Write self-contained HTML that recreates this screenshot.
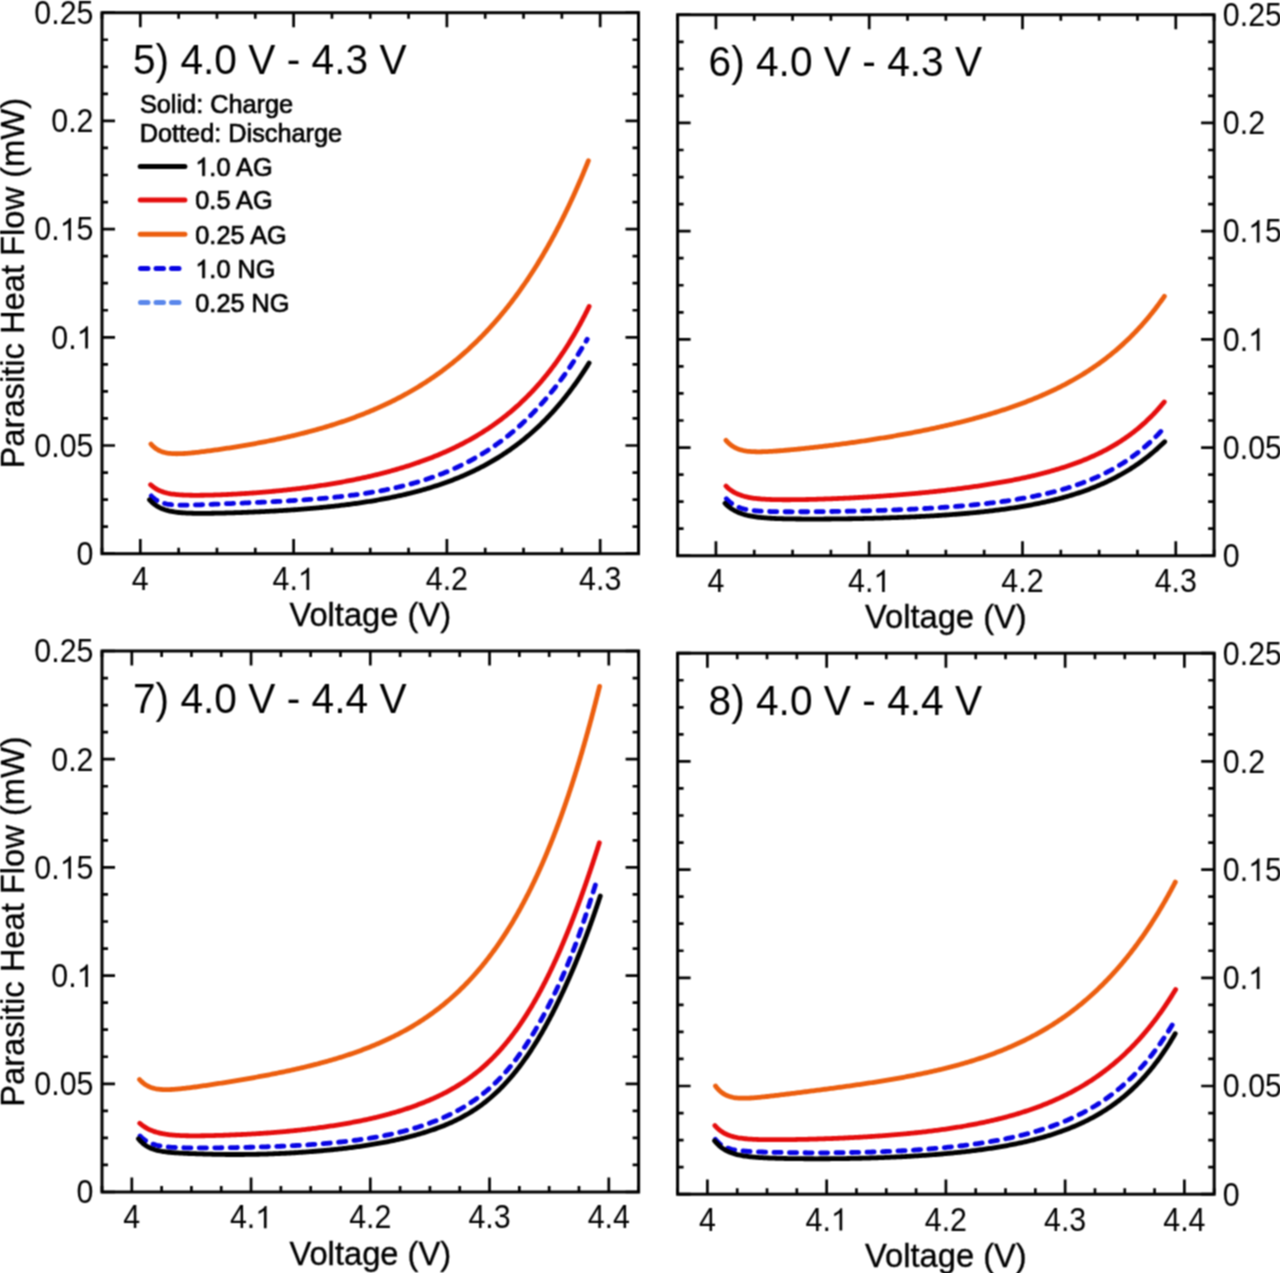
<!DOCTYPE html><html><head><meta charset="utf-8"><style>html,body{margin:0;padding:0;background:#fff;overflow:hidden;}svg{display:block;}text{font-family:"Liberation Sans",sans-serif;fill:#000;}</style></head><body>
<svg width="1280" height="1273" viewBox="0 0 1280 1273">
<defs><filter id="bl" filterUnits="userSpaceOnUse" x="-20" y="-20" width="1320" height="1313" color-interpolation-filters="sRGB"><feConvolveMatrix order="3" kernelMatrix="1 2 1 2 4 2 1 2 1" divisor="16" edgeMode="duplicate" preserveAlpha="true"/></filter></defs><g filter="url(#bl)">
<rect x="-20" y="-20" width="1320" height="1313" fill="#fff"/>
<path d="M150.98 444.09 L151.99 445.2 L153.05 446.25 L154.17 447.25 L155.35 448.18 L156.58 449.03 L157.86 449.81 L159.18 450.5 L160.55 451.12 L161.95 451.66 L163.37 452.12 L164.82 452.51 L166.28 452.83 L167.76 453.1 L169.24 453.31 L170.73 453.47 L172.22 453.58 L173.72 453.67 L175.22 453.71 L176.72 453.73 L178.21 453.72 L179.71 453.69 L181.21 453.64 L182.71 453.57 L184.2 453.48 L185.7 453.39 L187.19 453.28 L188.68 453.15 L190.18 453.02 L191.67 452.89 L193.16 452.74 L194.65 452.59 L196.14 452.43 L197.63 452.26 L199.12 452.09 L200.61 451.92 L202.09 451.74 L203.58 451.55 L205.07 451.37 L206.55 451.18 L208.04 450.98 L209.52 450.79 L211.01 450.59 L212.49 450.39 L213.98 450.18 L215.46 449.98 L216.94 449.77 L218.43 449.55 L219.91 449.34 L221.39 449.12 L222.88 448.9 L224.36 448.68 L225.84 448.46 L227.32 448.23 L228.8 448.01 L230.28 447.78 L231.76 447.54 L233.24 447.31 L234.72 447.07 L236.2 446.83 L237.68 446.59 L239.16 446.35 L240.63 446.1 L242.11 445.86 L243.59 445.61 L245.07 445.35 L246.54 445.1 L248.02 444.84 L249.49 444.58 L250.97 444.32 L252.44 444.06 L253.92 443.79 L255.39 443.52 L256.87 443.25 L258.34 442.97 L259.81 442.7 L261.28 442.42 L262.75 442.14 L264.22 441.85 L265.7 441.56 L267.17 441.27 L268.63 440.98 L270.1 440.69 L271.57 440.39 L273.04 440.09 L274.51 439.78 L275.97 439.48 L277.44 439.17 L278.9 438.85 L280.37 438.54 L281.83 438.22 L283.3 437.9 L284.76 437.57 L286.22 437.24 L287.68 436.91 L289.14 436.58 L290.6 436.24 L292.06 435.9 L293.52 435.56 L294.98 435.21 L296.43 434.86 L297.89 434.5 L299.34 434.15 L300.8 433.79 L302.25 433.42 L303.7 433.05 L305.15 432.68 L306.6 432.31 L308.05 431.93 L309.5 431.54 L310.95 431.16 L312.4 430.77 L313.84 430.37 L315.29 429.98 L316.73 429.58 L318.17 429.17 L319.61 428.76 L321.05 428.35 L322.49 427.93 L323.93 427.51 L325.37 427.08 L326.8 426.65 L328.24 426.22 L329.67 425.78 L331.1 425.34 L332.53 424.89 L333.96 424.44 L335.39 423.99 L336.81 423.53 L338.24 423.06 L339.66 422.59 L341.08 422.12 L342.5 421.64 L343.92 421.16 L345.34 420.68 L346.75 420.18 L348.17 419.69 L349.58 419.19 L350.99 418.68 L352.4 418.17 L353.81 417.66 L355.21 417.14 L356.61 416.61 L358.02 416.08 L359.42 415.55 L360.81 415.01 L362.21 414.46 L363.6 413.91 L364.99 413.36 L366.38 412.8 L367.77 412.23 L369.16 411.66 L370.54 411.09 L371.92 410.51 L373.3 409.92 L374.68 409.33 L376.05 408.73 L377.42 408.13 L378.79 407.52 L380.16 406.91 L381.52 406.29 L382.89 405.67 L384.25 405.04 L385.6 404.4 L386.96 403.76 L388.31 403.12 L389.66 402.47 L391 401.81 L392.35 401.15 L393.69 400.48 L395.03 399.8 L396.36 399.13 L397.7 398.44 L399.02 397.75 L400.35 397.05 L401.67 396.35 L402.99 395.64 L404.31 394.93 L405.63 394.21 L406.94 393.48 L408.24 392.75 L409.55 392.01 L410.85 391.27 L412.15 390.52 L413.44 389.77 L414.73 389.01 L416.02 388.24 L417.3 387.47 L418.59 386.69 L419.86 385.91 L421.14 385.12 L422.41 384.32 L423.67 383.52 L424.93 382.72 L426.19 381.9 L427.45 381.08 L428.7 380.26 L429.95 379.43 L431.19 378.59 L432.43 377.75 L433.66 376.91 L434.9 376.05 L436.12 375.19 L437.35 374.33 L438.57 373.46 L439.78 372.58 L440.99 371.7 L442.2 370.81 L443.4 369.92 L444.6 369.02 L445.8 368.12 L446.99 367.21 L448.17 366.29 L449.36 365.37 L450.53 364.45 L451.71 363.52 L452.88 362.58 L454.04 361.64 L455.2 360.69 L456.36 359.73 L457.51 358.78 L458.65 357.81 L459.8 356.84 L460.93 355.87 L462.07 354.89 L463.2 353.9 L464.32 352.91 L465.44 351.92 L466.56 350.92 L467.67 349.91 L468.77 348.9 L469.88 347.89 L470.97 346.87 L472.06 345.84 L473.15 344.81 L474.24 343.77 L475.31 342.73 L476.39 341.69 L477.46 340.64 L478.52 339.59 L479.58 338.53 L480.64 337.46 L481.69 336.4 L482.74 335.32 L483.78 334.25 L484.81 333.17 L485.85 332.08 L486.87 330.99 L487.9 329.9 L488.92 328.8 L489.93 327.69 L490.94 326.59 L491.94 325.48 L492.94 324.36 L493.94 323.24 L494.93 322.12 L495.92 320.99 L496.9 319.86 L497.88 318.72 L498.85 317.58 L499.82 316.44 L500.78 315.29 L501.74 314.14 L502.69 312.99 L503.64 311.83 L504.59 310.66 L505.53 309.5 L506.47 308.33 L507.4 307.16 L508.33 305.98 L509.25 304.8 L510.17 303.62 L511.08 302.43 L511.99 301.24 L512.9 300.05 L513.8 298.85 L514.7 297.65 L515.59 296.45 L516.48 295.24 L517.37 294.03 L518.25 292.82 L519.12 291.6 L519.99 290.39 L520.86 289.16 L521.72 287.94 L522.58 286.71 L523.44 285.48 L524.29 284.25 L525.14 283.01 L525.98 281.77 L526.82 280.53 L527.65 279.29 L528.48 278.04 L529.31 276.79 L530.13 275.54 L530.95 274.29 L531.77 273.03 L532.58 271.77 L533.38 270.51 L534.19 269.24 L534.99 267.97 L535.78 266.71 L536.57 265.43 L537.36 264.16 L538.15 262.88 L538.93 261.6 L539.7 260.32 L540.48 259.04 L541.25 257.75 L542.01 256.47 L542.77 255.18 L543.53 253.88 L544.29 252.59 L545.04 251.29 L545.79 250 L546.53 248.7 L547.27 247.39 L548.01 246.09 L548.74 244.78 L549.48 243.47 L550.2 242.16 L550.93 240.85 L551.65 239.54 L552.36 238.22 L553.08 236.91 L553.79 235.59 L554.49 234.27 L555.2 232.94 L555.9 231.62 L556.6 230.29 L557.29 228.97 L557.98 227.64 L558.67 226.31 L559.35 224.97 L560.04 223.64 L560.71 222.3 L561.39 220.97 L562.06 219.63 L562.73 218.29 L563.4 216.94 L564.06 215.6 L564.72 214.26 L565.38 212.91 L566.03 211.56 L566.69 210.21 L567.33 208.86 L567.98 207.51 L568.62 206.16 L569.26 204.8 L569.9 203.45 L570.53 202.09 L571.17 200.73 L571.8 199.37 L572.42 198.01 L573.05 196.65 L573.67 195.28 L574.28 193.92 L574.9 192.55 L575.51 191.19 L576.12 189.82 L576.73 188.45 L577.34 187.08 L577.94 185.71 L578.54 184.33 L579.13 182.96 L579.73 181.58 L580.32 180.21 L580.91 178.83 L581.5 177.45 L582.08 176.07 L582.67 174.69 L583.25 173.31 L583.82 171.93 L584.4 170.55 L584.97 169.16 L585.54 167.78 L586.11 166.39 L586.68 165 L587.24 163.61 L587.8 162.22 L588.36 160.83" fill="none" stroke="#EC5E0E" stroke-width="4.8" stroke-linecap="round" stroke-linejoin="round"/>
<path d="M150.65 484.69 L151.75 485.7 L152.91 486.65 L154.11 487.54 L155.35 488.37 L156.63 489.15 L157.95 489.86 L159.3 490.5 L160.67 491.09 L162.07 491.62 L163.49 492.1 L164.92 492.52 L166.37 492.9 L167.83 493.24 L169.29 493.53 L170.77 493.8 L172.25 494.03 L173.73 494.23 L175.21 494.4 L176.7 494.56 L178.19 494.69 L179.68 494.81 L181.18 494.91 L182.67 494.99 L184.16 495.06 L185.66 495.12 L187.15 495.17 L188.65 495.21 L190.14 495.24 L191.64 495.26 L193.14 495.28 L194.63 495.29 L196.13 495.29 L197.62 495.29 L199.12 495.28 L200.62 495.27 L202.11 495.25 L203.61 495.23 L205.1 495.21 L206.6 495.18 L208.1 495.15 L209.59 495.11 L211.09 495.07 L212.58 495.03 L214.08 494.99 L215.57 494.94 L217.07 494.89 L218.56 494.84 L220.06 494.79 L221.55 494.73 L223.05 494.67 L224.54 494.61 L226.04 494.54 L227.53 494.48 L229.03 494.41 L230.52 494.33 L232.02 494.26 L233.51 494.18 L235 494.11 L236.5 494.03 L237.99 493.94 L239.48 493.86 L240.98 493.77 L242.47 493.68 L243.96 493.59 L245.46 493.49 L246.95 493.4 L248.44 493.3 L249.94 493.2 L251.43 493.09 L252.92 492.99 L254.41 492.88 L255.91 492.77 L257.4 492.66 L258.89 492.54 L260.38 492.42 L261.87 492.3 L263.36 492.18 L264.85 492.06 L266.34 491.93 L267.83 491.8 L269.32 491.67 L270.81 491.54 L272.3 491.4 L273.79 491.26 L275.28 491.12 L276.77 490.98 L278.26 490.83 L279.75 490.68 L281.24 490.53 L282.73 490.38 L284.21 490.23 L285.7 490.07 L287.19 489.91 L288.68 489.74 L290.16 489.58 L291.65 489.41 L293.14 489.24 L294.62 489.06 L296.11 488.89 L297.59 488.71 L299.08 488.53 L300.56 488.34 L302.05 488.16 L303.53 487.97 L305.01 487.77 L306.5 487.58 L307.98 487.38 L309.46 487.18 L310.95 486.98 L312.43 486.77 L313.91 486.56 L315.39 486.35 L316.87 486.14 L318.35 485.92 L319.83 485.7 L321.31 485.48 L322.79 485.25 L324.27 485.02 L325.74 484.79 L327.22 484.55 L328.7 484.32 L330.18 484.07 L331.65 483.83 L333.13 483.58 L334.6 483.33 L336.08 483.08 L337.55 482.82 L339.02 482.56 L340.5 482.3 L341.97 482.03 L343.44 481.76 L344.91 481.49 L346.38 481.21 L347.85 480.93 L349.32 480.65 L350.79 480.36 L352.26 480.07 L353.72 479.78 L355.19 479.48 L356.65 479.18 L358.12 478.87 L359.58 478.57 L361.05 478.25 L362.51 477.94 L363.97 477.62 L365.43 477.3 L366.89 476.97 L368.35 476.64 L369.81 476.31 L371.26 475.97 L372.72 475.62 L374.18 475.28 L375.63 474.93 L377.08 474.57 L378.54 474.22 L379.99 473.85 L381.44 473.49 L382.89 473.12 L384.34 472.74 L385.78 472.36 L387.23 471.98 L388.67 471.59 L390.12 471.2 L391.56 470.8 L393 470.4 L394.44 469.99 L395.88 469.58 L397.32 469.17 L398.75 468.75 L400.19 468.32 L401.62 467.89 L403.05 467.46 L404.48 467.02 L405.91 466.58 L407.34 466.13 L408.76 465.68 L410.19 465.22 L411.61 464.75 L413.03 464.28 L414.45 463.81 L415.87 463.33 L417.28 462.85 L418.7 462.36 L420.11 461.86 L421.52 461.36 L422.93 460.85 L424.33 460.34 L425.73 459.82 L427.14 459.3 L428.54 458.77 L429.93 458.24 L431.33 457.7 L432.72 457.15 L434.11 456.6 L435.5 456.04 L436.89 455.48 L438.27 454.91 L439.65 454.33 L441.03 453.75 L442.4 453.16 L443.78 452.56 L445.15 451.96 L446.51 451.36 L447.88 450.74 L449.24 450.12 L450.6 449.5 L451.95 448.86 L453.31 448.23 L454.66 447.58 L456 446.93 L457.34 446.27 L458.68 445.6 L460.02 444.93 L461.35 444.25 L462.68 443.56 L464.01 442.87 L465.33 442.17 L466.65 441.47 L467.97 440.75 L469.28 440.03 L470.58 439.3 L471.89 438.57 L473.19 437.83 L474.48 437.08 L475.77 436.32 L477.06 435.56 L478.34 434.79 L479.62 434.02 L480.9 433.23 L482.17 432.44 L483.43 431.64 L484.69 430.84 L485.95 430.03 L487.2 429.21 L488.45 428.38 L489.69 427.54 L490.93 426.7 L492.16 425.86 L493.39 425 L494.61 424.14 L495.83 423.27 L497.04 422.39 L498.24 421.51 L499.45 420.62 L500.64 419.72 L501.83 418.81 L503.02 417.9 L504.2 416.98 L505.37 416.05 L506.54 415.12 L507.71 414.18 L508.87 413.23 L510.02 412.28 L511.16 411.32 L512.31 410.35 L513.44 409.38 L514.57 408.4 L515.69 407.41 L516.81 406.41 L517.92 405.41 L519.03 404.41 L520.13 403.39 L521.22 402.37 L522.31 401.34 L523.39 400.31 L524.47 399.27 L525.54 398.23 L526.6 397.17 L527.66 396.12 L528.71 395.05 L529.76 393.98 L530.8 392.9 L531.83 391.82 L532.86 390.73 L533.88 389.64 L534.89 388.54 L535.9 387.44 L536.9 386.33 L537.9 385.21 L538.89 384.09 L539.87 382.96 L540.85 381.83 L541.82 380.69 L542.79 379.55 L543.74 378.4 L544.7 377.25 L545.64 376.09 L546.59 374.92 L547.52 373.76 L548.45 372.58 L549.37 371.41 L550.29 370.22 L551.2 369.04 L552.1 367.85 L553 366.65 L553.9 365.45 L554.78 364.25 L555.66 363.04 L556.54 361.82 L557.41 360.61 L558.27 359.38 L559.13 358.16 L559.98 356.93 L560.83 355.7 L561.67 354.46 L562.51 353.22 L563.34 351.97 L564.16 350.72 L564.98 349.47 L565.79 348.22 L566.6 346.96 L567.4 345.69 L568.2 344.43 L568.99 343.16 L569.78 341.89 L570.56 340.61 L571.33 339.33 L572.1 338.05 L572.87 336.76 L573.63 335.47 L574.39 334.18 L575.14 332.89 L575.88 331.59 L576.62 330.29 L577.36 328.99 L578.09 327.68 L578.81 326.37 L579.53 325.06 L580.25 323.75 L580.96 322.43 L581.67 321.11 L582.37 319.79 L583.06 318.47 L583.76 317.14 L584.45 315.82 L585.13 314.48 L585.81 313.15 L586.48 311.82 L587.15 310.48 L587.82 309.14 L588.48 307.8 L589.14 306.45" fill="none" stroke="#E50D0D" stroke-width="4.8" stroke-linecap="round" stroke-linejoin="round"/>
<path d="M151.27 495.9 L152.33 496.96 L153.44 497.96 L154.61 498.89 L155.83 499.76 L157.11 500.54 L158.42 501.25 L159.78 501.88 L161.17 502.44 L162.58 502.92 L164.02 503.34 L165.47 503.7 L166.94 504.01 L168.41 504.26 L169.89 504.47 L171.38 504.65 L172.87 504.79 L174.36 504.9 L175.86 504.99 L177.35 505.05 L178.85 505.1 L180.34 505.13 L181.84 505.15 L183.33 505.15 L184.83 505.15 L186.33 505.14 L187.82 505.12 L189.32 505.09 L190.81 505.06 L192.31 505.02 L193.81 504.98 L195.3 504.93 L196.8 504.88 L198.29 504.83 L199.79 504.78 L201.28 504.73 L202.78 504.67 L204.27 504.62 L205.77 504.56 L207.26 504.5 L208.76 504.44 L210.25 504.38 L211.75 504.32 L213.25 504.26 L214.74 504.2 L216.24 504.14 L217.73 504.08 L219.23 504.02 L220.72 503.96 L222.22 503.9 L223.71 503.84 L225.21 503.77 L226.7 503.71 L228.2 503.65 L229.69 503.59 L231.19 503.53 L232.68 503.47 L234.18 503.4 L235.67 503.34 L237.17 503.28 L238.66 503.22 L240.16 503.15 L241.65 503.09 L243.15 503.03 L244.64 502.96 L246.14 502.9 L247.63 502.83 L249.13 502.77 L250.62 502.7 L252.12 502.64 L253.61 502.57 L255.1 502.51 L256.6 502.44 L258.09 502.37 L259.59 502.3 L261.08 502.23 L262.58 502.16 L264.07 502.09 L265.57 502.02 L267.06 501.95 L268.56 501.88 L270.05 501.81 L271.55 501.73 L273.04 501.66 L274.53 501.58 L276.03 501.51 L277.52 501.43 L279.02 501.35 L280.51 501.27 L282.01 501.19 L283.5 501.11 L284.99 501.02 L286.49 500.94 L287.98 500.85 L289.48 500.76 L290.97 500.67 L292.46 500.58 L293.96 500.49 L295.45 500.4 L296.94 500.3 L298.44 500.21 L299.93 500.11 L301.42 500.01 L302.91 499.91 L304.41 499.81 L305.9 499.7 L307.39 499.59 L308.88 499.48 L310.38 499.37 L311.87 499.26 L313.36 499.14 L314.85 499.03 L316.34 498.91 L317.84 498.79 L319.33 498.66 L320.82 498.54 L322.31 498.41 L323.8 498.28 L325.29 498.14 L326.78 498.01 L328.27 497.87 L329.76 497.73 L331.25 497.58 L332.74 497.43 L334.23 497.28 L335.71 497.13 L337.2 496.97 L338.69 496.82 L340.18 496.65 L341.67 496.49 L343.15 496.32 L344.64 496.15 L346.12 495.97 L347.61 495.8 L349.1 495.61 L350.58 495.43 L352.06 495.24 L353.55 495.05 L355.03 494.85 L356.51 494.65 L358 494.45 L359.48 494.24 L360.96 494.03 L362.44 493.81 L363.92 493.59 L365.4 493.37 L366.88 493.14 L368.36 492.9 L369.83 492.67 L371.31 492.43 L372.79 492.18 L374.26 491.93 L375.74 491.67 L377.21 491.41 L378.68 491.15 L380.15 490.88 L381.63 490.6 L383.09 490.32 L384.56 490.04 L386.03 489.75 L387.5 489.45 L388.96 489.15 L390.43 488.85 L391.89 488.54 L393.36 488.22 L394.82 487.9 L396.28 487.57 L397.74 487.24 L399.19 486.9 L400.65 486.55 L402.1 486.2 L403.56 485.84 L405.01 485.48 L406.46 485.11 L407.91 484.74 L409.35 484.35 L410.8 483.97 L412.24 483.57 L413.68 483.17 L415.12 482.76 L416.56 482.35 L418 481.93 L419.43 481.5 L420.86 481.07 L422.29 480.63 L423.72 480.18 L425.15 479.72 L426.57 479.26 L427.99 478.79 L429.41 478.32 L430.82 477.83 L432.24 477.34 L433.65 476.85 L435.06 476.34 L436.46 475.83 L437.87 475.31 L439.27 474.78 L440.67 474.25 L442.06 473.71 L443.45 473.16 L444.84 472.6 L446.23 472.04 L447.61 471.46 L448.99 470.88 L450.36 470.3 L451.74 469.7 L453.11 469.1 L454.47 468.49 L455.83 467.87 L457.19 467.24 L458.55 466.61 L459.9 465.96 L461.25 465.31 L462.59 464.66 L463.93 463.99 L465.27 463.32 L466.6 462.63 L467.93 461.94 L469.25 461.25 L470.57 460.54 L471.89 459.83 L473.2 459.11 L474.5 458.38 L475.8 457.64 L477.1 456.89 L478.4 456.14 L479.68 455.38 L480.97 454.61 L482.25 453.84 L483.52 453.05 L484.79 452.26 L486.06 451.46 L487.32 450.65 L488.57 449.84 L489.82 449.02 L491.07 448.19 L492.31 447.35 L493.54 446.5 L494.77 445.65 L495.99 444.79 L497.21 443.92 L498.43 443.05 L499.64 442.17 L500.84 441.28 L502.04 440.38 L503.23 439.48 L504.42 438.57 L505.6 437.65 L506.78 436.72 L507.95 435.79 L509.11 434.85 L510.27 433.91 L511.43 432.96 L512.58 432 L513.72 431.03 L514.86 430.06 L515.99 429.08 L517.12 428.1 L518.24 427.11 L519.35 426.11 L520.46 425.11 L521.57 424.1 L522.66 423.08 L523.76 422.06 L524.84 421.03 L525.93 420 L527 418.96 L528.07 417.91 L529.14 416.86 L530.2 415.8 L531.25 414.74 L532.3 413.67 L533.34 412.6 L534.38 411.52 L535.41 410.44 L536.43 409.35 L537.45 408.25 L538.47 407.15 L539.48 406.05 L540.48 404.94 L541.48 403.82 L542.47 402.7 L543.46 401.58 L544.44 400.45 L545.42 399.32 L546.39 398.18 L547.35 397.03 L548.32 395.89 L549.27 394.73 L550.22 393.58 L551.16 392.42 L552.1 391.25 L553.04 390.08 L553.97 388.91 L554.89 387.73 L555.81 386.55 L556.72 385.37 L557.63 384.18 L558.54 382.99 L559.43 381.79 L560.33 380.59 L561.22 379.39 L562.1 378.18 L562.98 376.97 L563.85 375.75 L564.72 374.54 L565.59 373.31 L566.45 372.09 L567.3 370.86 L568.15 369.63 L569 368.39 L569.84 367.16 L570.67 365.92 L571.5 364.67 L572.33 363.43 L573.15 362.18 L573.97 360.92 L574.79 359.67 L575.59 358.41 L576.4 357.15 L577.2 355.88 L578 354.62 L578.79 353.35 L579.57 352.07 L580.36 350.8 L581.14 349.52 L581.91 348.24 L582.68 346.96 L583.45 345.67 L584.21 344.39 L584.97 343.1 L585.72 341.8 L586.47 340.51 L587.22 339.21" fill="none" stroke="#0804E4" stroke-width="4.8" stroke-linecap="round" stroke-linejoin="round" stroke-dasharray="7.2 8.3"/>
<path d="M149.49 499.75 L150.51 500.85 L151.58 501.9 L152.69 502.91 L153.84 503.87 L155.03 504.77 L156.27 505.63 L157.54 506.42 L158.84 507.16 L160.18 507.84 L161.54 508.46 L162.93 509.03 L164.34 509.54 L165.77 510.01 L167.21 510.42 L168.66 510.8 L170.12 511.13 L171.59 511.43 L173.06 511.7 L174.54 511.94 L176.03 512.14 L177.52 512.33 L179.01 512.49 L180.5 512.63 L181.99 512.75 L183.49 512.86 L184.99 512.95 L186.48 513.03 L187.98 513.1 L189.48 513.16 L190.98 513.21 L192.48 513.25 L193.97 513.28 L195.47 513.31 L196.97 513.32 L198.47 513.34 L199.97 513.35 L201.47 513.35 L202.97 513.35 L204.47 513.34 L205.97 513.33 L207.47 513.32 L208.97 513.31 L210.47 513.29 L211.97 513.27 L213.46 513.25 L214.96 513.22 L216.46 513.2 L217.96 513.17 L219.46 513.14 L220.96 513.1 L222.46 513.07 L223.96 513.03 L225.46 513 L226.96 512.96 L228.45 512.92 L229.95 512.87 L231.45 512.83 L232.95 512.79 L234.45 512.74 L235.95 512.69 L237.45 512.64 L238.94 512.59 L240.44 512.54 L241.94 512.49 L243.44 512.43 L244.94 512.38 L246.44 512.32 L247.93 512.26 L249.43 512.2 L250.93 512.14 L252.43 512.08 L253.93 512.02 L255.42 511.95 L256.92 511.88 L258.42 511.82 L259.92 511.75 L261.42 511.68 L262.91 511.61 L264.41 511.53 L265.91 511.46 L267.41 511.38 L268.9 511.3 L270.4 511.22 L271.9 511.14 L273.39 511.06 L274.89 510.98 L276.39 510.89 L277.88 510.8 L279.38 510.72 L280.88 510.63 L282.37 510.53 L283.87 510.44 L285.37 510.35 L286.86 510.25 L288.36 510.15 L289.86 510.05 L291.35 509.95 L292.85 509.84 L294.34 509.74 L295.84 509.63 L297.33 509.52 L298.83 509.41 L300.32 509.3 L301.82 509.18 L303.31 509.07 L304.81 508.95 L306.3 508.83 L307.8 508.7 L309.29 508.58 L310.78 508.45 L312.28 508.32 L313.77 508.19 L315.26 508.06 L316.76 507.92 L318.25 507.78 L319.74 507.64 L321.24 507.5 L322.73 507.35 L324.22 507.21 L325.71 507.06 L327.2 506.9 L328.7 506.75 L330.19 506.59 L331.68 506.43 L333.17 506.27 L334.66 506.1 L336.15 505.94 L337.64 505.77 L339.13 505.59 L340.62 505.42 L342.1 505.24 L343.59 505.06 L345.08 504.87 L346.57 504.69 L348.05 504.5 L349.54 504.3 L351.03 504.11 L352.51 503.91 L354 503.71 L355.48 503.5 L356.97 503.29 L358.45 503.08 L359.94 502.86 L361.42 502.64 L362.9 502.42 L364.39 502.2 L365.87 501.97 L367.35 501.74 L368.83 501.5 L370.31 501.26 L371.79 501.02 L373.27 500.77 L374.75 500.52 L376.22 500.27 L377.7 500.01 L379.18 499.75 L380.65 499.48 L382.13 499.21 L383.6 498.93 L385.07 498.66 L386.55 498.37 L388.02 498.09 L389.49 497.8 L390.96 497.5 L392.43 497.2 L393.9 496.9 L395.36 496.59 L396.83 496.27 L398.3 495.96 L399.76 495.63 L401.22 495.31 L402.68 494.98 L404.15 494.64 L405.61 494.3 L407.06 493.95 L408.52 493.6 L409.98 493.24 L411.43 492.88 L412.89 492.51 L414.34 492.14 L415.79 491.76 L417.24 491.38 L418.69 490.99 L420.13 490.6 L421.58 490.2 L423.02 489.79 L424.46 489.38 L425.9 488.97 L427.34 488.54 L428.78 488.12 L430.22 487.68 L431.65 487.24 L433.08 486.8 L434.51 486.34 L435.94 485.88 L437.36 485.42 L438.79 484.95 L440.21 484.47 L441.63 483.99 L443.04 483.5 L444.46 483 L445.87 482.5 L447.28 481.99 L448.69 481.48 L450.09 480.95 L451.5 480.42 L452.9 479.89 L454.3 479.34 L455.69 478.79 L457.08 478.24 L458.47 477.67 L459.86 477.1 L461.24 476.52 L462.62 475.94 L464 475.35 L465.37 474.75 L466.74 474.14 L468.11 473.53 L469.48 472.91 L470.84 472.28 L472.2 471.64 L473.55 471 L474.9 470.35 L476.25 469.69 L477.59 469.02 L478.93 468.35 L480.27 467.67 L481.6 466.98 L482.93 466.28 L484.25 465.58 L485.57 464.87 L486.89 464.15 L488.2 463.42 L489.5 462.69 L490.81 461.95 L492.11 461.2 L493.4 460.44 L494.69 459.68 L495.97 458.9 L497.25 458.12 L498.53 457.34 L499.8 456.54 L501.07 455.74 L502.33 454.93 L503.59 454.11 L504.84 453.28 L506.08 452.45 L507.32 451.61 L508.56 450.76 L509.79 449.91 L511.02 449.04 L512.24 448.17 L513.45 447.29 L514.66 446.41 L515.87 445.52 L517.07 444.62 L518.26 443.71 L519.45 442.79 L520.63 441.87 L521.81 440.94 L522.98 440.01 L524.15 439.06 L525.31 438.12 L526.46 437.16 L527.61 436.19 L528.75 435.22 L529.89 434.25 L531.02 433.26 L532.15 432.27 L533.27 431.28 L534.38 430.27 L535.49 429.26 L536.59 428.24 L537.69 427.22 L538.78 426.19 L539.86 425.16 L540.94 424.12 L542.01 423.07 L543.08 422.01 L544.14 420.95 L545.19 419.89 L546.24 418.82 L547.28 417.74 L548.32 416.66 L549.35 415.57 L550.38 414.47 L551.39 413.37 L552.41 412.27 L553.41 411.16 L554.42 410.04 L555.41 408.92 L556.4 407.79 L557.38 406.66 L558.36 405.52 L559.33 404.38 L560.3 403.24 L561.26 402.08 L562.21 400.93 L563.16 399.77 L564.11 398.6 L565.04 397.43 L565.98 396.26 L566.9 395.08 L567.82 393.89 L568.74 392.71 L569.65 391.51 L570.55 390.32 L571.45 389.12 L572.34 387.91 L573.23 386.7 L574.11 385.49 L574.99 384.27 L575.86 383.05 L576.72 381.83 L577.58 380.6 L578.44 379.37 L579.29 378.14 L580.13 376.9 L580.97 375.65 L581.81 374.41 L582.64 373.16 L583.46 371.91 L584.28 370.65 L585.09 369.39 L585.9 368.13 L586.71 366.87 L587.51 365.6 L588.3 364.33 L589.09 363.05" fill="none" stroke="#000000" stroke-width="4.8" stroke-linecap="round" stroke-linejoin="round"/>
<path d="M102 553.7V547.7M102 12.7V18.7M140.32 553.7V539.1M140.32 12.7V27.3M178.64 553.7V547.7M178.64 12.7V18.7M216.96 553.7V547.7M216.96 12.7V18.7M255.29 553.7V547.7M255.29 12.7V18.7M293.61 553.7V539.1M293.61 12.7V27.3M331.93 553.7V547.7M331.93 12.7V18.7M370.25 553.7V547.7M370.25 12.7V18.7M408.57 553.7V547.7M408.57 12.7V18.7M446.89 553.7V539.1M446.89 12.7V27.3M485.21 553.7V547.7M485.21 12.7V18.7M523.54 553.7V547.7M523.54 12.7V18.7M561.86 553.7V547.7M561.86 12.7V18.7M600.18 553.7V539.1M600.18 12.7V27.3M638.5 553.7V547.7M638.5 12.7V18.7M102 553.7H115M638.5 553.7H625.5M102 526.65H108M638.5 526.65H632.5M102 499.6H108M638.5 499.6H632.5M102 472.55H108M638.5 472.55H632.5M102 445.5H115M638.5 445.5H625.5M102 418.45H108M638.5 418.45H632.5M102 391.4H108M638.5 391.4H632.5M102 364.35H108M638.5 364.35H632.5M102 337.3H115M638.5 337.3H625.5M102 310.25H108M638.5 310.25H632.5M102 283.2H108M638.5 283.2H632.5M102 256.15H108M638.5 256.15H632.5M102 229.1H115M638.5 229.1H625.5M102 202.05H108M638.5 202.05H632.5M102 175H108M638.5 175H632.5M102 147.95H108M638.5 147.95H632.5M102 120.9H115M638.5 120.9H625.5M102 93.85H108M638.5 93.85H632.5M102 66.8H108M638.5 66.8H632.5M102 39.75H108M638.5 39.75H632.5M102 12.7H115M638.5 12.7H625.5" fill="none" stroke="#000" stroke-width="2.7"/>
<rect x="102" y="12.7" width="536.5" height="541" fill="none" stroke="#000" stroke-width="3.0"/>
<text transform="translate(140.32 590) scale(1 1.07)" font-size="30.4" text-anchor="middle">4</text>
<text transform="translate(293.61 590) scale(1 1.07)" font-size="30.4" text-anchor="middle">4. </text><path transform="translate(297.83 590) scale(0.01484 -0.01588)" d="M583 0L763 0L763 1409L646 1409Q560 1230 223 1075L223 905Q430 985 583 1100Z"/>
<text transform="translate(446.89 590) scale(1 1.07)" font-size="30.4" text-anchor="middle">4.2</text>
<text transform="translate(600.18 590) scale(1 1.07)" font-size="30.4" text-anchor="middle">4.3</text>
<text transform="translate(93.5 565) scale(1 1.07)" font-size="30.4" text-anchor="end">0</text>
<text transform="translate(93.5 456.8) scale(1 1.07)" font-size="30.4" text-anchor="end">0.05</text>
<text transform="translate(93.5 348.6) scale(1 1.07)" font-size="30.4" text-anchor="end">0. </text><path transform="translate(76.59 348.6) scale(0.01484 -0.01588)" d="M583 0L763 0L763 1409L646 1409Q560 1230 223 1075L223 905Q430 985 583 1100Z"/>
<text transform="translate(93.5 240.4) scale(1 1.07)" font-size="30.4" text-anchor="end">0. 5</text><path transform="translate(59.69 240.4) scale(0.01484 -0.01588)" d="M583 0L763 0L763 1409L646 1409Q560 1230 223 1075L223 905Q430 985 583 1100Z"/>
<text transform="translate(93.5 132.2) scale(1 1.07)" font-size="30.4" text-anchor="end">0.2</text>
<text transform="translate(93.5 24) scale(1 1.07)" font-size="30.4" text-anchor="end">0.25</text>
<text transform="translate(370.25 626.4) scale(1 1.02)" font-size="32.7" text-anchor="middle" stroke="#000" stroke-width="0.35">Voltage (V)</text>
<text transform="translate(24.3 283.2) rotate(-90) scale(1 1.02)" font-size="32.7" text-anchor="middle" stroke="#000" stroke-width="0.35">Parasitic Heat Flow (mW)</text>
<text transform="translate(132.9 74.2) scale(1 1.055)" font-size="40.7">5) 4.0 V - 4.3 V</text>
<path d="M725.99 440.33 L726.99 441.46 L728.03 442.53 L729.13 443.56 L730.27 444.52 L731.47 445.43 L732.71 446.27 L733.99 447.04 L735.31 447.74 L736.67 448.38 L738.06 448.94 L739.47 449.44 L740.91 449.88 L742.36 450.26 L743.82 450.58 L745.3 450.86 L746.78 451.09 L748.26 451.28 L749.76 451.43 L751.25 451.55 L752.75 451.65 L754.24 451.71 L755.74 451.76 L757.24 451.78 L758.74 451.79 L760.24 451.78 L761.74 451.75 L763.24 451.72 L764.73 451.67 L766.23 451.61 L767.73 451.54 L769.23 451.47 L770.72 451.38 L772.22 451.29 L773.72 451.2 L775.21 451.09 L776.71 450.99 L778.2 450.88 L779.7 450.76 L781.19 450.64 L782.68 450.52 L784.18 450.39 L785.67 450.26 L787.17 450.13 L788.66 450 L790.15 449.86 L791.64 449.72 L793.14 449.58 L794.63 449.43 L796.12 449.29 L797.61 449.14 L799.1 448.99 L800.59 448.84 L802.09 448.68 L803.58 448.53 L805.07 448.37 L806.56 448.21 L808.05 448.05 L809.54 447.89 L811.03 447.73 L812.52 447.56 L814.01 447.39 L815.5 447.22 L816.99 447.05 L818.48 446.88 L819.97 446.71 L821.45 446.53 L822.94 446.36 L824.43 446.18 L825.92 446 L827.41 445.82 L828.9 445.64 L830.38 445.45 L831.87 445.27 L833.36 445.08 L834.85 444.89 L836.33 444.7 L837.82 444.51 L839.31 444.31 L840.79 444.12 L842.28 443.92 L843.76 443.72 L845.25 443.53 L846.74 443.32 L848.22 443.12 L849.71 442.92 L851.19 442.71 L852.67 442.5 L854.16 442.29 L855.64 442.08 L857.13 441.87 L858.61 441.66 L860.09 441.44 L861.58 441.22 L863.06 441 L864.54 440.78 L866.03 440.56 L867.51 440.34 L868.99 440.11 L870.47 439.88 L871.95 439.65 L873.43 439.42 L874.92 439.19 L876.4 438.95 L877.88 438.72 L879.36 438.48 L880.84 438.24 L882.32 438 L883.79 437.76 L885.27 437.51 L886.75 437.26 L888.23 437.01 L889.71 436.76 L891.19 436.51 L892.66 436.26 L894.14 436 L895.62 435.74 L897.09 435.48 L898.57 435.22 L900.04 434.95 L901.52 434.69 L902.99 434.42 L904.47 434.15 L905.94 433.88 L907.42 433.6 L908.89 433.33 L910.36 433.05 L911.84 432.77 L913.31 432.49 L914.78 432.2 L916.25 431.91 L917.72 431.63 L919.19 431.33 L920.66 431.04 L922.13 430.75 L923.6 430.45 L925.07 430.15 L926.54 429.85 L928.01 429.54 L929.47 429.23 L930.94 428.93 L932.41 428.61 L933.87 428.3 L935.34 427.98 L936.8 427.66 L938.27 427.34 L939.73 427.02 L941.19 426.69 L942.66 426.36 L944.12 426.03 L945.58 425.7 L947.04 425.36 L948.5 425.02 L949.96 424.68 L951.42 424.34 L952.88 423.99 L954.34 423.64 L955.79 423.29 L957.25 422.93 L958.7 422.57 L960.16 422.21 L961.61 421.85 L963.07 421.48 L964.52 421.11 L965.97 420.74 L967.42 420.36 L968.87 419.99 L970.32 419.6 L971.77 419.22 L973.22 418.83 L974.67 418.44 L976.11 418.04 L977.56 417.65 L979 417.24 L980.45 416.84 L981.89 416.43 L983.33 416.02 L984.77 415.61 L986.21 415.19 L987.65 414.76 L989.09 414.34 L990.52 413.91 L991.96 413.48 L993.39 413.04 L994.82 412.6 L996.26 412.16 L997.69 411.71 L999.12 411.26 L1000.54 410.8 L1001.97 410.34 L1003.4 409.88 L1004.82 409.41 L1006.24 408.94 L1007.67 408.46 L1009.09 407.98 L1010.5 407.5 L1011.92 407.01 L1013.34 406.52 L1014.75 406.02 L1016.16 405.52 L1017.57 405.01 L1018.98 404.5 L1020.39 403.99 L1021.8 403.47 L1023.2 402.94 L1024.6 402.41 L1026.01 401.88 L1027.4 401.34 L1028.8 400.79 L1030.2 400.24 L1031.59 399.69 L1032.98 399.13 L1034.37 398.57 L1035.76 398 L1037.14 397.42 L1038.52 396.84 L1039.9 396.26 L1041.28 395.67 L1042.66 395.07 L1044.03 394.47 L1045.4 393.86 L1046.77 393.25 L1048.13 392.63 L1049.5 392.01 L1050.86 391.38 L1052.21 390.74 L1053.57 390.1 L1054.92 389.46 L1056.27 388.8 L1057.62 388.14 L1058.96 387.48 L1060.3 386.81 L1061.64 386.13 L1062.97 385.45 L1064.3 384.76 L1065.63 384.06 L1066.96 383.36 L1068.28 382.65 L1069.6 381.94 L1070.91 381.22 L1072.22 380.49 L1073.53 379.76 L1074.83 379.01 L1076.13 378.27 L1077.43 377.51 L1078.72 376.75 L1080.01 375.99 L1081.29 375.21 L1082.57 374.43 L1083.85 373.65 L1085.12 372.85 L1086.39 372.05 L1087.65 371.25 L1088.91 370.43 L1090.16 369.61 L1091.41 368.78 L1092.66 367.95 L1093.9 367.11 L1095.14 366.26 L1096.37 365.4 L1097.59 364.54 L1098.82 363.67 L1100.03 362.8 L1101.24 361.92 L1102.45 361.03 L1103.65 360.13 L1104.85 359.23 L1106.04 358.32 L1107.23 357.4 L1108.41 356.48 L1109.58 355.55 L1110.75 354.61 L1111.92 353.67 L1113.08 352.72 L1114.23 351.76 L1115.38 350.8 L1116.52 349.83 L1117.66 348.85 L1118.79 347.87 L1119.92 346.88 L1121.04 345.88 L1122.15 344.88 L1123.26 343.87 L1124.36 342.85 L1125.46 341.83 L1126.55 340.8 L1127.63 339.76 L1128.71 338.72 L1129.78 337.68 L1130.85 336.62 L1131.91 335.56 L1132.96 334.5 L1134.01 333.43 L1135.05 332.35 L1136.09 331.26 L1137.12 330.18 L1138.14 329.08 L1139.16 327.98 L1140.17 326.87 L1141.18 325.76 L1142.18 324.64 L1143.17 323.52 L1144.16 322.39 L1145.14 321.26 L1146.11 320.12 L1147.08 318.98 L1148.05 317.83 L1149 316.67 L1149.95 315.51 L1150.9 314.35 L1151.84 313.18 L1152.77 312.01 L1153.69 310.83 L1154.61 309.65 L1155.53 308.46 L1156.44 307.26 L1157.34 306.07 L1158.23 304.87 L1159.12 303.66 L1160.01 302.45 L1160.89 301.23 L1161.76 300.02 L1162.63 298.79 L1163.49 297.57 L1164.34 296.33" fill="none" stroke="#EC5E0E" stroke-width="4.8" stroke-linecap="round" stroke-linejoin="round"/>
<path d="M725.95 486.07 L727.03 487.1 L728.15 488.1 L729.3 489.05 L730.5 489.95 L731.73 490.8 L732.99 491.61 L734.29 492.36 L735.61 493.06 L736.96 493.7 L738.33 494.3 L739.72 494.85 L741.13 495.36 L742.55 495.82 L743.99 496.24 L745.44 496.62 L746.89 496.97 L748.35 497.28 L749.82 497.56 L751.3 497.82 L752.78 498.05 L754.26 498.26 L755.74 498.45 L757.23 498.61 L758.72 498.76 L760.21 498.9 L761.7 499.02 L763.19 499.12 L764.69 499.22 L766.18 499.3 L767.68 499.38 L769.17 499.44 L770.67 499.5 L772.16 499.55 L773.66 499.59 L775.15 499.63 L776.65 499.66 L778.15 499.68 L779.64 499.7 L781.14 499.72 L782.63 499.73 L784.13 499.73 L785.63 499.74 L787.12 499.74 L788.62 499.74 L790.12 499.73 L791.61 499.72 L793.11 499.71 L794.61 499.7 L796.1 499.68 L797.6 499.66 L799.09 499.64 L800.59 499.62 L802.09 499.59 L803.58 499.57 L805.08 499.54 L806.58 499.51 L808.07 499.48 L809.57 499.44 L811.06 499.41 L812.56 499.37 L814.06 499.33 L815.55 499.29 L817.05 499.25 L818.54 499.21 L820.04 499.16 L821.53 499.12 L823.03 499.07 L824.53 499.02 L826.02 498.97 L827.52 498.92 L829.01 498.86 L830.51 498.81 L832 498.75 L833.5 498.7 L834.99 498.64 L836.49 498.58 L837.98 498.52 L839.48 498.45 L840.97 498.39 L842.47 498.32 L843.96 498.26 L845.46 498.19 L846.95 498.12 L848.45 498.05 L849.94 497.98 L851.44 497.9 L852.93 497.83 L854.43 497.75 L855.92 497.68 L857.42 497.6 L858.91 497.52 L860.4 497.43 L861.9 497.35 L863.39 497.27 L864.89 497.18 L866.38 497.09 L867.87 497.01 L869.37 496.92 L870.86 496.82 L872.35 496.73 L873.85 496.64 L875.34 496.54 L876.83 496.45 L878.33 496.35 L879.82 496.25 L881.31 496.15 L882.81 496.04 L884.3 495.94 L885.79 495.83 L887.28 495.73 L888.78 495.62 L890.27 495.51 L891.76 495.4 L893.25 495.28 L894.75 495.17 L896.24 495.05 L897.73 494.94 L899.22 494.82 L900.71 494.7 L902.2 494.58 L903.7 494.45 L905.19 494.33 L906.68 494.2 L908.17 494.07 L909.66 493.95 L911.15 493.81 L912.64 493.68 L914.13 493.55 L915.62 493.41 L917.11 493.27 L918.6 493.13 L920.09 492.99 L921.58 492.85 L923.07 492.71 L924.56 492.56 L926.05 492.41 L927.54 492.27 L929.03 492.11 L930.52 491.96 L932 491.81 L933.49 491.65 L934.98 491.49 L936.47 491.33 L937.96 491.17 L939.44 491.01 L940.93 490.84 L942.42 490.68 L943.9 490.51 L945.39 490.34 L946.88 490.16 L948.36 489.99 L949.85 489.81 L951.34 489.64 L952.82 489.45 L954.31 489.27 L955.79 489.09 L957.28 488.9 L958.76 488.71 L960.24 488.52 L961.73 488.33 L963.21 488.13 L964.7 487.94 L966.18 487.74 L967.66 487.54 L969.14 487.33 L970.63 487.13 L972.11 486.92 L973.59 486.71 L975.07 486.49 L976.55 486.28 L978.03 486.06 L979.51 485.84 L980.99 485.62 L982.47 485.39 L983.95 485.16 L985.43 484.93 L986.91 484.7 L988.38 484.46 L989.86 484.22 L991.34 483.98 L992.81 483.74 L994.29 483.49 L995.77 483.24 L997.24 482.99 L998.71 482.73 L1000.19 482.47 L1001.66 482.21 L1003.13 481.95 L1004.61 481.68 L1006.08 481.41 L1007.55 481.13 L1009.02 480.85 L1010.49 480.57 L1011.96 480.29 L1013.43 480 L1014.89 479.71 L1016.36 479.41 L1017.83 479.11 L1019.29 478.81 L1020.76 478.5 L1022.22 478.19 L1023.68 477.88 L1025.15 477.56 L1026.61 477.24 L1028.07 476.91 L1029.53 476.58 L1030.99 476.24 L1032.44 475.9 L1033.9 475.56 L1035.35 475.21 L1036.81 474.86 L1038.26 474.5 L1039.71 474.14 L1041.16 473.77 L1042.61 473.4 L1044.06 473.02 L1045.51 472.64 L1046.95 472.26 L1048.4 471.86 L1049.84 471.47 L1051.28 471.06 L1052.72 470.65 L1054.16 470.24 L1055.6 469.82 L1057.03 469.39 L1058.46 468.96 L1059.89 468.52 L1061.32 468.08 L1062.75 467.63 L1064.18 467.17 L1065.6 466.71 L1067.02 466.24 L1068.44 465.77 L1069.85 465.28 L1071.27 464.79 L1072.68 464.3 L1074.09 463.79 L1075.5 463.28 L1076.9 462.76 L1078.3 462.24 L1079.7 461.71 L1081.09 461.17 L1082.49 460.62 L1083.88 460.06 L1085.26 459.5 L1086.65 458.92 L1088.02 458.34 L1089.4 457.76 L1090.77 457.16 L1092.14 456.55 L1093.51 455.94 L1094.87 455.32 L1096.22 454.69 L1097.58 454.05 L1098.92 453.4 L1100.27 452.74 L1101.61 452.07 L1102.94 451.4 L1104.27 450.71 L1105.6 450.02 L1106.92 449.31 L1108.23 448.6 L1109.54 447.88 L1110.85 447.14 L1112.15 446.4 L1113.44 445.65 L1114.73 444.89 L1116.01 444.12 L1117.29 443.34 L1118.56 442.54 L1119.82 441.74 L1121.08 440.93 L1122.33 440.11 L1123.58 439.28 L1124.81 438.44 L1126.05 437.59 L1127.27 436.73 L1128.49 435.86 L1129.7 434.98 L1130.9 434.09 L1132.1 433.19 L1133.28 432.28 L1134.47 431.36 L1135.64 430.43 L1136.8 429.49 L1137.96 428.54 L1139.11 427.59 L1140.25 426.62 L1141.39 425.64 L1142.51 424.66 L1143.63 423.66 L1144.74 422.66 L1145.84 421.64 L1146.93 420.62 L1148.02 419.59 L1149.09 418.55 L1150.16 417.5 L1151.22 416.45 L1152.27 415.38 L1153.32 414.31 L1154.35 413.23 L1155.37 412.14 L1156.39 411.04 L1157.4 409.93 L1158.4 408.82 L1159.39 407.7 L1160.37 406.57 L1161.35 405.43 L1162.31 404.29 L1163.27 403.14 L1164.22 401.98" fill="none" stroke="#E50D0D" stroke-width="4.8" stroke-linecap="round" stroke-linejoin="round"/>
<path d="M726.36 498.67 L727.38 499.77 L728.44 500.83 L729.56 501.83 L730.72 502.78 L731.92 503.67 L733.17 504.49 L734.46 505.26 L735.78 505.96 L737.14 506.6 L738.52 507.18 L739.92 507.71 L741.34 508.18 L742.78 508.6 L744.23 508.97 L745.69 509.3 L747.16 509.6 L748.64 509.86 L750.12 510.1 L751.6 510.3 L753.09 510.48 L754.58 510.65 L756.07 510.79 L757.56 510.91 L759.05 511.02 L760.55 511.12 L762.05 511.21 L763.54 511.29 L765.04 511.35 L766.54 511.41 L768.03 511.47 L769.53 511.51 L771.03 511.55 L772.53 511.59 L774.02 511.62 L775.52 511.65 L777.02 511.67 L778.52 511.69 L780.02 511.71 L781.51 511.73 L783.01 511.74 L784.51 511.75 L786.01 511.76 L787.51 511.76 L789 511.77 L790.5 511.77 L792 511.78 L793.5 511.78 L795 511.78 L796.5 511.78 L797.99 511.77 L799.49 511.77 L800.99 511.77 L802.49 511.76 L803.99 511.76 L805.48 511.75 L806.98 511.74 L808.48 511.73 L809.98 511.72 L811.48 511.71 L812.98 511.7 L814.47 511.69 L815.97 511.68 L817.47 511.66 L818.97 511.65 L820.47 511.64 L821.96 511.62 L823.46 511.6 L824.96 511.59 L826.46 511.57 L827.96 511.55 L829.45 511.53 L830.95 511.51 L832.45 511.49 L833.95 511.47 L835.45 511.45 L836.95 511.43 L838.44 511.4 L839.94 511.38 L841.44 511.35 L842.94 511.33 L844.43 511.3 L845.93 511.27 L847.43 511.24 L848.93 511.22 L850.43 511.19 L851.92 511.16 L853.42 511.12 L854.92 511.09 L856.42 511.06 L857.92 511.03 L859.41 510.99 L860.91 510.96 L862.41 510.92 L863.91 510.88 L865.4 510.84 L866.9 510.8 L868.4 510.76 L869.9 510.72 L871.4 510.68 L872.89 510.64 L874.39 510.6 L875.89 510.55 L877.39 510.51 L878.88 510.46 L880.38 510.41 L881.88 510.36 L883.38 510.32 L884.87 510.26 L886.37 510.21 L887.87 510.16 L889.36 510.11 L890.86 510.05 L892.36 510 L893.86 509.94 L895.35 509.88 L896.85 509.82 L898.35 509.76 L899.84 509.7 L901.34 509.64 L902.84 509.58 L904.33 509.51 L905.83 509.45 L907.33 509.38 L908.82 509.31 L910.32 509.24 L911.82 509.17 L913.31 509.1 L914.81 509.03 L916.31 508.95 L917.8 508.88 L919.3 508.8 L920.8 508.72 L922.29 508.64 L923.79 508.56 L925.28 508.48 L926.78 508.39 L928.28 508.31 L929.77 508.22 L931.27 508.13 L932.76 508.04 L934.26 507.95 L935.75 507.85 L937.25 507.76 L938.74 507.66 L940.24 507.56 L941.73 507.46 L943.23 507.36 L944.72 507.25 L946.22 507.15 L947.71 507.04 L949.2 506.93 L950.7 506.82 L952.19 506.71 L953.69 506.59 L955.18 506.48 L956.67 506.36 L958.17 506.24 L959.66 506.11 L961.15 505.99 L962.65 505.86 L964.14 505.73 L965.63 505.6 L967.12 505.46 L968.61 505.33 L970.11 505.19 L971.6 505.05 L973.09 504.9 L974.58 504.76 L976.07 504.61 L977.56 504.46 L979.05 504.3 L980.54 504.15 L982.03 503.99 L983.52 503.83 L985.01 503.66 L986.5 503.5 L987.99 503.33 L989.48 503.15 L990.96 502.98 L992.45 502.8 L993.94 502.61 L995.42 502.43 L996.91 502.24 L998.4 502.05 L999.88 501.85 L1001.37 501.65 L1002.85 501.45 L1004.34 501.25 L1005.82 501.04 L1007.3 500.82 L1008.79 500.61 L1010.27 500.39 L1011.75 500.16 L1013.23 499.94 L1014.71 499.7 L1016.19 499.47 L1017.67 499.23 L1019.15 498.98 L1020.62 498.73 L1022.1 498.48 L1023.58 498.22 L1025.05 497.96 L1026.52 497.69 L1028 497.42 L1029.47 497.15 L1030.94 496.87 L1032.41 496.58 L1033.88 496.29 L1035.35 495.99 L1036.82 495.69 L1038.29 495.39 L1039.75 495.07 L1041.22 494.76 L1042.68 494.44 L1044.14 494.11 L1045.6 493.77 L1047.06 493.43 L1048.52 493.09 L1049.97 492.74 L1051.43 492.38 L1052.88 492.01 L1054.33 491.64 L1055.78 491.27 L1057.23 490.88 L1058.68 490.49 L1060.12 490.1 L1061.57 489.69 L1063.01 489.28 L1064.45 488.86 L1065.88 488.44 L1067.32 488.01 L1068.75 487.57 L1070.18 487.12 L1071.61 486.67 L1073.03 486.2 L1074.45 485.73 L1075.87 485.26 L1077.29 484.77 L1078.71 484.28 L1080.12 483.78 L1081.53 483.27 L1082.93 482.75 L1084.34 482.22 L1085.73 481.69 L1087.13 481.14 L1088.52 480.59 L1089.91 480.03 L1091.3 479.46 L1092.68 478.88 L1094.06 478.29 L1095.43 477.69 L1096.8 477.09 L1098.17 476.47 L1099.53 475.85 L1100.89 475.21 L1102.24 474.57 L1103.59 473.91 L1104.93 473.25 L1106.27 472.58 L1107.6 471.9 L1108.93 471.2 L1110.26 470.5 L1111.57 469.79 L1112.89 469.07 L1114.19 468.34 L1115.5 467.6 L1116.79 466.85 L1118.08 466.08 L1119.37 465.31 L1120.65 464.53 L1121.92 463.74 L1123.19 462.94 L1124.45 462.13 L1125.7 461.31 L1126.95 460.48 L1128.19 459.64 L1129.42 458.79 L1130.65 457.93 L1131.87 457.06 L1133.08 456.18 L1134.29 455.29 L1135.49 454.4 L1136.68 453.49 L1137.86 452.57 L1139.04 451.65 L1140.21 450.71 L1141.37 449.77 L1142.53 448.81 L1143.68 447.85 L1144.82 446.88 L1145.95 445.9 L1147.07 444.91 L1148.19 443.91 L1149.3 442.9 L1150.4 441.89 L1151.5 440.86 L1152.58 439.83 L1153.66 438.79 L1154.73 437.74 L1155.79 436.68 L1156.85 435.62 L1157.89 434.55 L1158.93 433.47 L1159.96 432.38 L1160.99 431.29 L1162 430.19 L1163.01 429.08 L1164.01 427.96" fill="none" stroke="#0804E4" stroke-width="4.8" stroke-linecap="round" stroke-linejoin="round" stroke-dasharray="7.2 8.3"/>
<path d="M724.97 503.31 L726.04 504.36 L727.14 505.37 L728.28 506.34 L729.45 507.27 L730.66 508.15 L731.9 508.98 L733.17 509.77 L734.47 510.51 L735.79 511.21 L737.14 511.86 L738.51 512.46 L739.89 513.02 L741.3 513.54 L742.71 514.02 L744.14 514.46 L745.58 514.86 L747.03 515.24 L748.49 515.58 L749.95 515.89 L751.42 516.17 L752.89 516.43 L754.37 516.67 L755.85 516.89 L757.33 517.09 L758.81 517.27 L760.3 517.44 L761.79 517.59 L763.27 517.73 L764.76 517.86 L766.26 517.97 L767.75 518.08 L769.24 518.17 L770.73 518.26 L772.23 518.34 L773.72 518.42 L775.21 518.48 L776.71 518.54 L778.2 518.6 L779.7 518.65 L781.19 518.7 L782.69 518.74 L784.18 518.78 L785.68 518.81 L787.17 518.85 L788.67 518.88 L790.16 518.9 L791.66 518.93 L793.15 518.95 L794.65 518.97 L796.14 518.98 L797.64 519 L799.13 519.01 L800.63 519.02 L802.12 519.03 L803.62 519.04 L805.11 519.05 L806.61 519.05 L808.1 519.05 L809.6 519.06 L811.1 519.06 L812.59 519.06 L814.09 519.06 L815.58 519.06 L817.08 519.05 L818.57 519.05 L820.07 519.04 L821.56 519.04 L823.06 519.03 L824.55 519.02 L826.05 519.01 L827.54 519 L829.04 518.99 L830.54 518.98 L832.03 518.97 L833.53 518.96 L835.02 518.94 L836.52 518.93 L838.01 518.91 L839.51 518.89 L841 518.87 L842.5 518.86 L843.99 518.84 L845.49 518.82 L846.98 518.79 L848.48 518.77 L849.97 518.75 L851.47 518.73 L852.96 518.7 L854.46 518.67 L855.95 518.65 L857.45 518.62 L858.95 518.59 L860.44 518.56 L861.94 518.53 L863.43 518.5 L864.93 518.47 L866.42 518.44 L867.92 518.4 L869.41 518.37 L870.91 518.33 L872.4 518.29 L873.9 518.26 L875.39 518.22 L876.88 518.18 L878.38 518.14 L879.87 518.09 L881.37 518.05 L882.86 518.01 L884.36 517.96 L885.85 517.91 L887.35 517.87 L888.84 517.82 L890.34 517.77 L891.83 517.72 L893.33 517.67 L894.82 517.61 L896.32 517.56 L897.81 517.5 L899.3 517.45 L900.8 517.39 L902.29 517.33 L903.79 517.27 L905.28 517.21 L906.77 517.15 L908.27 517.08 L909.76 517.02 L911.26 516.95 L912.75 516.88 L914.24 516.81 L915.74 516.74 L917.23 516.67 L918.73 516.6 L920.22 516.52 L921.71 516.45 L923.21 516.37 L924.7 516.29 L926.19 516.21 L927.69 516.13 L929.18 516.04 L930.67 515.96 L932.16 515.87 L933.66 515.78 L935.15 515.69 L936.64 515.6 L938.13 515.51 L939.63 515.41 L941.12 515.32 L942.61 515.22 L944.1 515.12 L945.6 515.01 L947.09 514.91 L948.58 514.8 L950.07 514.7 L951.56 514.59 L953.05 514.48 L954.54 514.36 L956.03 514.25 L957.53 514.13 L959.02 514.01 L960.51 513.89 L962 513.76 L963.49 513.64 L964.98 513.51 L966.47 513.38 L967.96 513.24 L969.45 513.11 L970.93 512.97 L972.42 512.83 L973.91 512.69 L975.4 512.55 L976.89 512.4 L978.38 512.25 L979.86 512.1 L981.35 511.94 L982.84 511.78 L984.32 511.62 L985.81 511.46 L987.3 511.29 L988.78 511.13 L990.27 510.95 L991.75 510.78 L993.24 510.6 L994.72 510.42 L996.21 510.24 L997.69 510.05 L999.17 509.86 L1000.66 509.67 L1002.14 509.47 L1003.62 509.27 L1005.1 509.07 L1006.58 508.86 L1008.06 508.65 L1009.55 508.44 L1011.02 508.22 L1012.5 508 L1013.98 507.78 L1015.46 507.55 L1016.94 507.32 L1018.41 507.08 L1019.89 506.84 L1021.36 506.6 L1022.84 506.35 L1024.31 506.09 L1025.79 505.84 L1027.26 505.58 L1028.73 505.31 L1030.2 505.04 L1031.67 504.77 L1033.14 504.49 L1034.61 504.2 L1036.08 503.91 L1037.54 503.62 L1039.01 503.32 L1040.47 503.02 L1041.94 502.71 L1043.4 502.4 L1044.86 502.08 L1046.32 501.75 L1047.78 501.42 L1049.23 501.09 L1050.69 500.75 L1052.14 500.4 L1053.6 500.05 L1055.05 499.69 L1056.5 499.33 L1057.95 498.96 L1059.4 498.58 L1060.84 498.2 L1062.29 497.81 L1063.73 497.42 L1065.17 497.02 L1066.61 496.61 L1068.05 496.19 L1069.48 495.77 L1070.91 495.35 L1072.34 494.91 L1073.77 494.47 L1075.2 494.02 L1076.62 493.57 L1078.05 493.1 L1079.47 492.63 L1080.88 492.16 L1082.3 491.67 L1083.71 491.18 L1085.12 490.68 L1086.52 490.17 L1087.93 489.65 L1089.33 489.13 L1090.73 488.6 L1092.12 488.06 L1093.51 487.51 L1094.9 486.95 L1096.29 486.39 L1097.67 485.82 L1099.04 485.24 L1100.42 484.65 L1101.79 484.05 L1103.16 483.44 L1104.52 482.83 L1105.88 482.2 L1107.23 481.57 L1108.58 480.93 L1109.93 480.28 L1111.27 479.62 L1112.61 478.95 L1113.94 478.27 L1115.27 477.58 L1116.59 476.89 L1117.91 476.18 L1119.23 475.47 L1120.54 474.75 L1121.84 474.01 L1123.14 473.27 L1124.43 472.52 L1125.72 471.76 L1127 470.99 L1128.28 470.22 L1129.55 469.43 L1130.82 468.63 L1132.08 467.82 L1133.33 467.01 L1134.58 466.18 L1135.82 465.35 L1137.05 464.51 L1138.28 463.66 L1139.51 462.8 L1140.72 461.93 L1141.93 461.05 L1143.14 460.16 L1144.33 459.26 L1145.52 458.36 L1146.71 457.44 L1147.88 456.52 L1149.05 455.59 L1150.21 454.65 L1151.37 453.7 L1152.52 452.74 L1153.66 451.78 L1154.8 450.8 L1155.92 449.82 L1157.05 448.83 L1158.16 447.83 L1159.26 446.83 L1160.36 445.81 L1161.46 444.79 L1162.54 443.76 L1163.62 442.73 L1164.69 441.68" fill="none" stroke="#000000" stroke-width="4.8" stroke-linecap="round" stroke-linejoin="round"/>
<path d="M677.6 555.75V549.75M677.6 14.75V20.75M715.92 555.75V541.15M715.92 14.75V29.35M754.24 555.75V549.75M754.24 14.75V20.75M792.56 555.75V549.75M792.56 14.75V20.75M830.89 555.75V549.75M830.89 14.75V20.75M869.21 555.75V541.15M869.21 14.75V29.35M907.53 555.75V549.75M907.53 14.75V20.75M945.85 555.75V549.75M945.85 14.75V20.75M984.17 555.75V549.75M984.17 14.75V20.75M1022.49 555.75V541.15M1022.49 14.75V29.35M1060.81 555.75V549.75M1060.81 14.75V20.75M1099.14 555.75V549.75M1099.14 14.75V20.75M1137.46 555.75V549.75M1137.46 14.75V20.75M1175.78 555.75V541.15M1175.78 14.75V29.35M1214.1 555.75V549.75M1214.1 14.75V20.75M677.6 555.75H690.6M1214.1 555.75H1201.1M677.6 528.7H683.6M1214.1 528.7H1208.1M677.6 501.65H683.6M1214.1 501.65H1208.1M677.6 474.6H683.6M1214.1 474.6H1208.1M677.6 447.55H690.6M1214.1 447.55H1201.1M677.6 420.5H683.6M1214.1 420.5H1208.1M677.6 393.45H683.6M1214.1 393.45H1208.1M677.6 366.4H683.6M1214.1 366.4H1208.1M677.6 339.35H690.6M1214.1 339.35H1201.1M677.6 312.3H683.6M1214.1 312.3H1208.1M677.6 285.25H683.6M1214.1 285.25H1208.1M677.6 258.2H683.6M1214.1 258.2H1208.1M677.6 231.15H690.6M1214.1 231.15H1201.1M677.6 204.1H683.6M1214.1 204.1H1208.1M677.6 177.05H683.6M1214.1 177.05H1208.1M677.6 150H683.6M1214.1 150H1208.1M677.6 122.95H690.6M1214.1 122.95H1201.1M677.6 95.9H683.6M1214.1 95.9H1208.1M677.6 68.85H683.6M1214.1 68.85H1208.1M677.6 41.8H683.6M1214.1 41.8H1208.1M677.6 14.75H690.6M1214.1 14.75H1201.1" fill="none" stroke="#000" stroke-width="2.7"/>
<rect x="677.6" y="14.75" width="536.5" height="541" fill="none" stroke="#000" stroke-width="3.0"/>
<text transform="translate(715.92 592.05) scale(1 1.07)" font-size="30.4" text-anchor="middle">4</text>
<text transform="translate(869.21 592.05) scale(1 1.07)" font-size="30.4" text-anchor="middle">4. </text><path transform="translate(873.43 592.05) scale(0.01484 -0.01588)" d="M583 0L763 0L763 1409L646 1409Q560 1230 223 1075L223 905Q430 985 583 1100Z"/>
<text transform="translate(1022.49 592.05) scale(1 1.07)" font-size="30.4" text-anchor="middle">4.2</text>
<text transform="translate(1175.78 592.05) scale(1 1.07)" font-size="30.4" text-anchor="middle">4.3</text>
<text transform="translate(1222.8 567.05) scale(1 1.07)" font-size="30.4">0</text>
<text transform="translate(1222.8 458.85) scale(1 1.07)" font-size="30.4">0.05</text>
<text transform="translate(1222.8 350.65) scale(1 1.07)" font-size="30.4">0. </text><path transform="translate(1248.15 350.65) scale(0.01484 -0.01588)" d="M583 0L763 0L763 1409L646 1409Q560 1230 223 1075L223 905Q430 985 583 1100Z"/>
<text transform="translate(1222.8 242.45) scale(1 1.07)" font-size="30.4">0. 5</text><path transform="translate(1248.15 242.45) scale(0.01484 -0.01588)" d="M583 0L763 0L763 1409L646 1409Q560 1230 223 1075L223 905Q430 985 583 1100Z"/>
<text transform="translate(1222.8 134.25) scale(1 1.07)" font-size="30.4">0.2</text>
<text transform="translate(1222.8 26.05) scale(1 1.07)" font-size="30.4">0.25</text>
<text transform="translate(945.85 628.45) scale(1 1.02)" font-size="32.7" text-anchor="middle" stroke="#000" stroke-width="0.35">Voltage (V)</text>
<text transform="translate(708.5 76.25) scale(1 1.055)" font-size="40.7">6) 4.0 V - 4.3 V</text>
<path d="M139.54 1079.52 L140.56 1080.62 L141.63 1081.67 L142.75 1082.66 L143.92 1083.6 L145.15 1084.46 L146.42 1085.26 L147.73 1085.98 L149.09 1086.63 L150.47 1087.2 L151.89 1087.7 L153.32 1088.13 L154.78 1088.49 L156.25 1088.8 L157.72 1089.04 L159.21 1089.24 L160.7 1089.39 L162.2 1089.5 L163.7 1089.57 L165.2 1089.6 L166.7 1089.61 L168.19 1089.6 L169.69 1089.55 L171.19 1089.49 L172.69 1089.41 L174.19 1089.32 L175.68 1089.21 L177.18 1089.09 L178.67 1088.95 L180.16 1088.81 L181.65 1088.66 L183.15 1088.49 L184.64 1088.33 L186.12 1088.15 L187.61 1087.97 L189.1 1087.79 L190.59 1087.6 L192.08 1087.4 L193.56 1087.21 L195.05 1087 L196.53 1086.8 L198.02 1086.59 L199.5 1086.38 L200.99 1086.17 L202.47 1085.96 L203.96 1085.74 L205.44 1085.52 L206.92 1085.3 L208.41 1085.08 L209.89 1084.86 L211.37 1084.63 L212.86 1084.41 L214.34 1084.18 L215.82 1083.95 L217.3 1083.72 L218.78 1083.49 L220.26 1083.25 L221.75 1083.02 L223.23 1082.78 L224.71 1082.55 L226.19 1082.31 L227.67 1082.07 L229.15 1081.83 L230.63 1081.59 L232.11 1081.34 L233.59 1081.1 L235.07 1080.85 L236.55 1080.61 L238.02 1080.36 L239.5 1080.11 L240.98 1079.86 L242.46 1079.6 L243.94 1079.35 L245.42 1079.09 L246.89 1078.84 L248.37 1078.58 L249.85 1078.32 L251.32 1078.05 L252.8 1077.79 L254.28 1077.52 L255.75 1077.26 L257.23 1076.99 L258.7 1076.72 L260.18 1076.44 L261.65 1076.17 L263.12 1075.89 L264.6 1075.62 L266.07 1075.34 L267.54 1075.05 L269.02 1074.77 L270.49 1074.48 L271.96 1074.19 L273.43 1073.9 L274.9 1073.61 L276.37 1073.31 L277.84 1073.02 L279.31 1072.72 L280.78 1072.41 L282.25 1072.11 L283.72 1071.8 L285.18 1071.49 L286.65 1071.18 L288.12 1070.87 L289.58 1070.55 L291.05 1070.23 L292.51 1069.91 L293.97 1069.58 L295.44 1069.25 L296.9 1068.92 L298.36 1068.59 L299.82 1068.25 L301.28 1067.91 L302.74 1067.56 L304.2 1067.22 L305.66 1066.87 L307.12 1066.52 L308.57 1066.16 L310.03 1065.8 L311.49 1065.44 L312.94 1065.07 L314.39 1064.7 L315.84 1064.33 L317.3 1063.95 L318.75 1063.57 L320.2 1063.18 L321.64 1062.79 L323.09 1062.4 L324.54 1062.01 L325.98 1061.61 L327.43 1061.2 L328.87 1060.79 L330.31 1060.38 L331.75 1059.96 L333.19 1059.54 L334.63 1059.12 L336.07 1058.69 L337.5 1058.25 L338.94 1057.82 L340.37 1057.37 L341.8 1056.92 L343.23 1056.47 L344.66 1056.01 L346.08 1055.55 L347.51 1055.09 L348.93 1054.61 L350.35 1054.14 L351.77 1053.65 L353.19 1053.17 L354.61 1052.68 L356.02 1052.18 L357.44 1051.68 L358.85 1051.17 L360.26 1050.65 L361.66 1050.13 L363.07 1049.61 L364.47 1049.08 L365.87 1048.54 L367.27 1048 L368.67 1047.45 L370.06 1046.9 L371.45 1046.34 L372.84 1045.78 L374.23 1045.21 L375.61 1044.63 L376.99 1044.05 L378.37 1043.46 L379.75 1042.86 L381.12 1042.26 L382.49 1041.65 L383.86 1041.04 L385.23 1040.42 L386.59 1039.79 L387.95 1039.16 L389.3 1038.52 L390.66 1037.87 L392.01 1037.21 L393.35 1036.55 L394.69 1035.89 L396.03 1035.21 L397.37 1034.53 L398.7 1033.84 L400.03 1033.15 L401.36 1032.45 L402.68 1031.74 L403.99 1031.02 L405.31 1030.3 L406.62 1029.57 L407.92 1028.83 L409.23 1028.09 L410.52 1027.33 L411.82 1026.57 L413.11 1025.81 L414.39 1025.03 L415.67 1024.25 L416.95 1023.47 L418.22 1022.67 L419.49 1021.87 L420.75 1021.06 L422.01 1020.24 L423.26 1019.42 L424.51 1018.59 L425.75 1017.75 L426.99 1016.9 L428.22 1016.05 L429.45 1015.19 L430.67 1014.32 L431.89 1013.45 L433.1 1012.57 L434.31 1011.68 L435.51 1010.78 L436.71 1009.88 L437.9 1008.97 L439.09 1008.05 L440.27 1007.13 L441.45 1006.2 L442.62 1005.26 L443.78 1004.31 L444.94 1003.36 L446.09 1002.4 L447.24 1001.44 L448.38 1000.47 L449.52 999.49 L450.65 998.5 L451.78 997.51 L452.9 996.51 L454.01 995.51 L455.12 994.5 L456.22 993.48 L457.31 992.46 L458.4 991.43 L459.49 990.39 L460.57 989.35 L461.64 988.3 L462.71 987.25 L463.77 986.19 L464.82 985.12 L465.87 984.05 L466.91 982.97 L467.95 981.89 L468.98 980.8 L470.01 979.71 L471.03 978.61 L472.04 977.5 L473.05 976.39 L474.05 975.27 L475.05 974.15 L476.04 973.03 L477.02 971.9 L478 970.76 L478.97 969.62 L479.94 968.47 L480.9 967.32 L481.86 966.17 L482.81 965.01 L483.75 963.84 L484.69 962.67 L485.62 961.5 L486.55 960.32 L487.47 959.14 L488.39 957.95 L489.3 956.76 L490.2 955.56 L491.1 954.36 L492 953.16 L492.89 951.95 L493.77 950.74 L494.65 949.53 L495.52 948.31 L496.39 947.08 L497.25 945.86 L498.11 944.63 L498.96 943.39 L499.81 942.15 L500.65 940.91 L501.49 939.67 L502.32 938.42 L503.14 937.17 L503.97 935.91 L504.78 934.66 L505.59 933.39 L506.4 932.13 L507.2 930.86 L508 929.59 L508.79 928.32 L509.58 927.04 L510.36 925.77 L511.14 924.48 L511.91 923.2 L512.68 921.91 L513.45 920.62 L514.21 919.33 L514.96 918.03 L515.71 916.73 L516.46 915.43 L517.2 914.13 L517.94 912.83 L518.67 911.52 L519.4 910.21 L520.13 908.89 L520.85 907.58 L521.57 906.26 L522.28 904.94 L522.99 903.62 L523.69 902.3 L524.39 900.97 L525.09 899.64 L525.78 898.31 L526.47 896.98 L527.15 895.65 L527.83 894.31 L528.51 892.97 L529.19 891.63 L529.85 890.29 L530.52 888.95 L531.18 887.6 L531.84 886.26 L532.5 884.91 L533.15 883.56 L533.8 882.2 L534.44 880.85 L535.08 879.49 L535.72 878.14 L536.35 876.78 L536.98 875.42 L537.61 874.05 L538.23 872.69 L538.85 871.32 L539.47 869.96 L540.08 868.59 L540.7 867.22 L541.3 865.85 L541.91 864.48 L542.51 863.1 L543.11 861.73 L543.7 860.35 L544.29 858.97 L544.88 857.59 L545.47 856.21 L546.05 854.83 L546.63 853.45 L547.21 852.07 L547.78 850.68 L548.36 849.29 L548.92 847.91 L549.49 846.52 L550.05 845.13 L550.61 843.74 L551.17 842.34 L551.73 840.95 L552.28 839.56 L552.83 838.16 L553.37 836.77 L553.92 835.37 L554.46 833.97 L555 832.57 L555.53 831.17 L556.07 829.77 L556.6 828.37 L557.13 826.96 L557.66 825.56 L558.18 824.15 L558.7 822.75 L559.22 821.34 L559.74 819.93 L560.25 818.52 L560.76 817.12 L561.27 815.7 L561.78 814.29 L562.28 812.88 L562.79 811.47 L563.29 810.06 L563.79 808.64 L564.28 807.23 L564.78 805.81 L565.27 804.39 L565.76 802.98 L566.25 801.56 L566.73 800.14 L567.21 798.72 L567.7 797.3 L568.17 795.88 L568.65 794.46 L569.13 793.03 L569.6 791.61 L570.07 790.19 L570.54 788.76 L571.01 787.34 L571.47 785.91 L571.93 784.49 L572.4 783.06 L572.85 781.63 L573.31 780.2 L573.77 778.77 L574.22 777.34 L574.67 775.91 L575.12 774.48 L575.57 773.05 L576.02 771.62 L576.46 770.19 L576.9 768.76 L577.35 767.32 L577.78 765.89 L578.22 764.46 L578.66 763.02 L579.09 761.58 L579.52 760.15 L579.96 758.71 L580.38 757.28 L580.81 755.84 L581.24 754.4 L581.66 752.96 L582.08 751.52 L582.5 750.08 L582.92 748.64 L583.34 747.2 L583.76 745.76 L584.17 744.32 L584.58 742.88 L585 741.44 L585.41 740 L585.81 738.55 L586.22 737.11 L586.63 735.67 L587.03 734.22 L587.43 732.78 L587.83 731.33 L588.23 729.89 L588.63 728.44 L589.03 726.99 L589.42 725.55 L589.82 724.1 L590.21 722.65 L590.6 721.21 L590.99 719.76 L591.38 718.31 L591.77 716.86 L592.15 715.41 L592.54 713.96 L592.92 712.51 L593.3 711.06 L593.68 709.61 L594.06 708.16 L594.44 706.71 L594.81 705.26 L595.19 703.81 L595.56 702.35 L595.93 700.9 L596.31 699.45 L596.68 697.99 L597.04 696.54 L597.41 695.09 L597.78 693.63 L598.14 692.18 L598.51 690.72 L598.87 689.27 L599.23 687.81 L599.59 686.36" fill="none" stroke="#EC5E0E" stroke-width="4.8" stroke-linecap="round" stroke-linejoin="round"/>
<path d="M139.74 1123.23 L140.89 1124.2 L142.07 1125.12 L143.28 1126 L144.52 1126.84 L145.79 1127.63 L147.09 1128.37 L148.42 1129.07 L149.77 1129.71 L151.14 1130.32 L152.52 1130.87 L153.93 1131.39 L155.35 1131.86 L156.78 1132.3 L158.23 1132.69 L159.68 1133.05 L161.14 1133.38 L162.61 1133.68 L164.08 1133.94 L165.56 1134.19 L167.04 1134.4 L168.52 1134.6 L170.01 1134.77 L171.5 1134.93 L172.99 1135.07 L174.48 1135.19 L175.97 1135.3 L177.47 1135.39 L178.96 1135.47 L180.46 1135.55 L181.95 1135.61 L183.45 1135.66 L184.95 1135.7 L186.44 1135.74 L187.94 1135.76 L189.44 1135.78 L190.93 1135.8 L192.43 1135.81 L193.93 1135.81 L195.42 1135.81 L196.92 1135.81 L198.42 1135.8 L199.91 1135.79 L201.41 1135.77 L202.91 1135.75 L204.4 1135.73 L205.9 1135.71 L207.4 1135.68 L208.89 1135.65 L210.39 1135.62 L211.89 1135.58 L213.38 1135.55 L214.88 1135.51 L216.38 1135.47 L217.87 1135.42 L219.37 1135.38 L220.86 1135.33 L222.36 1135.29 L223.86 1135.24 L225.35 1135.18 L226.85 1135.13 L228.34 1135.08 L229.84 1135.02 L231.34 1134.96 L232.83 1134.9 L234.33 1134.84 L235.82 1134.77 L237.32 1134.71 L238.81 1134.64 L240.31 1134.57 L241.8 1134.5 L243.3 1134.43 L244.79 1134.36 L246.29 1134.28 L247.78 1134.2 L249.28 1134.12 L250.77 1134.04 L252.27 1133.95 L253.76 1133.87 L255.26 1133.78 L256.75 1133.69 L258.25 1133.59 L259.74 1133.5 L261.23 1133.4 L262.73 1133.3 L264.22 1133.2 L265.71 1133.09 L267.21 1132.99 L268.7 1132.88 L270.19 1132.77 L271.68 1132.65 L273.18 1132.54 L274.67 1132.42 L276.16 1132.3 L277.65 1132.17 L279.14 1132.05 L280.64 1131.92 L282.13 1131.79 L283.62 1131.65 L285.11 1131.52 L286.6 1131.38 L288.09 1131.24 L289.58 1131.1 L291.07 1130.95 L292.56 1130.8 L294.05 1130.65 L295.54 1130.5 L297.03 1130.34 L298.51 1130.18 L300 1130.02 L301.49 1129.86 L302.98 1129.69 L304.47 1129.52 L305.95 1129.35 L307.44 1129.18 L308.93 1129 L310.41 1128.82 L311.9 1128.64 L313.38 1128.45 L314.87 1128.26 L316.35 1128.07 L317.84 1127.88 L319.32 1127.68 L320.8 1127.48 L322.29 1127.27 L323.77 1127.07 L325.25 1126.86 L326.73 1126.64 L328.21 1126.43 L329.7 1126.21 L331.18 1125.99 L332.66 1125.76 L334.13 1125.53 L335.61 1125.3 L337.09 1125.06 L338.57 1124.82 L340.05 1124.58 L341.52 1124.33 L343 1124.08 L344.47 1123.83 L345.95 1123.57 L347.42 1123.31 L348.9 1123.05 L350.37 1122.78 L351.84 1122.5 L353.31 1122.23 L354.78 1121.95 L356.25 1121.66 L357.72 1121.37 L359.19 1121.08 L360.65 1120.78 L362.12 1120.48 L363.59 1120.17 L365.05 1119.86 L366.51 1119.55 L367.98 1119.23 L369.44 1118.9 L370.9 1118.57 L372.36 1118.24 L373.81 1117.9 L375.27 1117.56 L376.73 1117.21 L378.18 1116.85 L379.64 1116.5 L381.09 1116.13 L382.54 1115.76 L383.99 1115.39 L385.43 1115.01 L386.88 1114.62 L388.33 1114.23 L389.77 1113.84 L391.21 1113.43 L392.65 1113.03 L394.09 1112.61 L395.53 1112.19 L396.96 1111.77 L398.4 1111.34 L399.83 1110.9 L401.26 1110.45 L402.69 1110 L404.11 1109.55 L405.53 1109.08 L406.96 1108.62 L408.37 1108.14 L409.79 1107.66 L411.21 1107.17 L412.62 1106.67 L414.03 1106.17 L415.44 1105.66 L416.84 1105.14 L418.24 1104.62 L419.64 1104.09 L421.04 1103.55 L422.43 1103.01 L423.83 1102.45 L425.21 1101.89 L426.6 1101.33 L427.98 1100.75 L429.36 1100.17 L430.74 1099.58 L432.11 1098.98 L433.48 1098.37 L434.84 1097.76 L436.2 1097.14 L437.56 1096.5 L438.91 1095.86 L440.26 1095.21 L441.6 1094.55 L442.94 1093.88 L444.28 1093.21 L445.61 1092.52 L446.93 1091.82 L448.25 1091.12 L449.57 1090.4 L450.88 1089.68 L452.18 1088.94 L453.48 1088.2 L454.77 1087.45 L456.06 1086.68 L457.34 1085.91 L458.62 1085.12 L459.89 1084.33 L461.15 1083.53 L462.41 1082.71 L463.66 1081.89 L464.9 1081.06 L466.14 1080.21 L467.37 1079.36 L468.59 1078.5 L469.81 1077.62 L471.01 1076.74 L472.22 1075.85 L473.41 1074.94 L474.6 1074.03 L475.78 1073.11 L476.95 1072.18 L478.11 1071.24 L479.27 1070.29 L480.42 1069.33 L481.56 1068.36 L482.69 1067.38 L483.81 1066.39 L484.93 1065.39 L486.04 1064.38 L487.14 1063.37 L488.23 1062.34 L489.31 1061.31 L490.39 1060.27 L491.45 1059.22 L492.51 1058.16 L493.56 1057.1 L494.61 1056.02 L495.64 1054.94 L496.67 1053.85 L497.69 1052.76 L498.7 1051.65 L499.7 1050.54 L500.7 1049.43 L501.69 1048.3 L502.67 1047.17 L503.64 1046.03 L504.61 1044.89 L505.57 1043.74 L506.52 1042.59 L507.47 1041.43 L508.4 1040.26 L509.33 1039.09 L510.26 1037.91 L511.17 1036.72 L512.08 1035.53 L512.99 1034.34 L513.88 1033.14 L514.77 1031.94 L515.65 1030.73 L516.53 1029.51 L517.4 1028.3 L518.26 1027.07 L519.12 1025.85 L519.97 1024.61 L520.81 1023.38 L521.65 1022.14 L522.49 1020.89 L523.31 1019.65 L524.13 1018.39 L524.95 1017.14 L525.76 1015.88 L526.56 1014.62 L527.36 1013.35 L528.15 1012.08 L528.94 1010.81 L529.72 1009.53 L530.49 1008.25 L531.27 1006.97 L532.03 1005.68 L532.79 1004.39 L533.55 1003.1 L534.3 1001.8 L535.04 1000.5 L535.78 999.2 L536.52 997.9 L537.25 996.59 L537.98 995.28 L538.7 993.97 L539.41 992.66 L540.13 991.34 L540.83 990.02 L541.54 988.7 L542.24 987.38 L542.93 986.05 L543.62 984.72 L544.31 983.39 L544.99 982.06 L545.67 980.73 L546.34 979.39 L547.01 978.05 L547.68 976.71 L548.34 975.37 L549 974.03 L549.66 972.68 L550.31 971.33 L550.96 969.98 L551.6 968.63 L552.24 967.28 L552.88 965.92 L553.51 964.57 L554.14 963.21 L554.77 961.85 L555.39 960.49 L556.01 959.13 L556.63 957.76 L557.24 956.4 L557.85 955.03 L558.46 953.66 L559.07 952.3 L559.67 950.92 L560.27 949.55 L560.86 948.18 L561.46 946.81 L562.05 945.43 L562.64 944.05 L563.22 942.67 L563.8 941.3 L564.38 939.92 L564.96 938.53 L565.53 937.15 L566.1 935.77 L566.67 934.38 L567.24 933 L567.8 931.61 L568.36 930.22 L568.92 928.83 L569.48 927.44 L570.03 926.05 L570.58 924.66 L571.13 923.27 L571.68 921.88 L572.23 920.48 L572.77 919.09 L573.31 917.69 L573.85 916.3 L574.38 914.9 L574.92 913.5 L575.45 912.1 L575.98 910.7 L576.51 909.3 L577.03 907.9 L577.56 906.49 L578.08 905.09 L578.6 903.69 L579.11 902.28 L579.63 900.88 L580.14 899.47 L580.66 898.07 L581.17 896.66 L581.67 895.25 L582.18 893.84 L582.69 892.43 L583.19 891.02 L583.69 889.61 L584.19 888.2 L584.69 886.79 L585.18 885.38 L585.68 883.96 L586.17 882.55 L586.66 881.14 L587.15 879.72 L587.64 878.31 L588.12 876.89 L588.61 875.47 L589.09 874.06 L589.57 872.64 L590.05 871.22 L590.53 869.8 L591.01 868.38 L591.48 866.96 L591.95 865.54 L592.43 864.12 L592.9 862.7 L593.37 861.28 L593.83 859.86 L594.3 858.44 L594.77 857.01 L595.23 855.59 L595.69 854.17 L596.15 852.74 L596.61 851.32 L597.07 849.89 L597.53 848.47 L597.98 847.04 L598.44 845.62 L598.89 844.19 L599.34 842.76" fill="none" stroke="#E50D0D" stroke-width="4.8" stroke-linecap="round" stroke-linejoin="round"/>
<path d="M140.03 1136.01 L141.1 1137.07 L142.21 1138.07 L143.37 1139.02 L144.57 1139.9 L145.82 1140.73 L147.1 1141.5 L148.42 1142.2 L149.78 1142.84 L151.15 1143.42 L152.56 1143.95 L153.98 1144.42 L155.41 1144.84 L156.86 1145.22 L158.32 1145.55 L159.79 1145.85 L161.26 1146.11 L162.74 1146.35 L164.22 1146.55 L165.71 1146.73 L167.19 1146.89 L168.68 1147.03 L170.18 1147.16 L171.67 1147.27 L173.16 1147.36 L174.66 1147.44 L176.15 1147.52 L177.65 1147.58 L179.14 1147.63 L180.64 1147.68 L182.13 1147.72 L183.63 1147.76 L185.13 1147.79 L186.62 1147.81 L188.12 1147.84 L189.62 1147.85 L191.11 1147.87 L192.61 1147.88 L194.1 1147.89 L195.6 1147.89 L197.1 1147.9 L198.59 1147.9 L200.09 1147.9 L201.59 1147.9 L203.08 1147.9 L204.58 1147.89 L206.08 1147.89 L207.57 1147.88 L209.07 1147.87 L210.57 1147.86 L212.06 1147.85 L213.56 1147.84 L215.06 1147.82 L216.55 1147.81 L218.05 1147.8 L219.55 1147.78 L221.04 1147.76 L222.54 1147.75 L224.04 1147.73 L225.53 1147.71 L227.03 1147.69 L228.53 1147.67 L230.02 1147.64 L231.52 1147.62 L233.01 1147.6 L234.51 1147.57 L236.01 1147.54 L237.5 1147.52 L239 1147.49 L240.5 1147.46 L241.99 1147.43 L243.49 1147.4 L244.99 1147.37 L246.48 1147.33 L247.98 1147.3 L249.47 1147.26 L250.97 1147.23 L252.47 1147.19 L253.96 1147.15 L255.46 1147.11 L256.95 1147.07 L258.45 1147.03 L259.95 1146.98 L261.44 1146.94 L262.94 1146.89 L264.43 1146.85 L265.93 1146.8 L267.43 1146.75 L268.92 1146.69 L270.42 1146.64 L271.91 1146.59 L273.41 1146.53 L274.9 1146.47 L276.4 1146.41 L277.89 1146.35 L279.39 1146.29 L280.89 1146.23 L282.38 1146.16 L283.88 1146.1 L285.37 1146.03 L286.87 1145.96 L288.36 1145.88 L289.86 1145.81 L291.35 1145.74 L292.84 1145.66 L294.34 1145.58 L295.83 1145.5 L297.33 1145.42 L298.82 1145.33 L300.32 1145.24 L301.81 1145.16 L303.3 1145.06 L304.8 1144.97 L306.29 1144.88 L307.78 1144.78 L309.28 1144.68 L310.77 1144.58 L312.26 1144.47 L313.76 1144.37 L315.25 1144.26 L316.74 1144.15 L318.23 1144.04 L319.73 1143.92 L321.22 1143.8 L322.71 1143.68 L324.2 1143.56 L325.69 1143.43 L327.18 1143.3 L328.67 1143.17 L330.17 1143.03 L331.66 1142.9 L333.15 1142.76 L334.64 1142.61 L336.12 1142.47 L337.61 1142.32 L339.1 1142.16 L340.59 1142.01 L342.08 1141.85 L343.57 1141.68 L345.05 1141.52 L346.54 1141.35 L348.03 1141.17 L349.51 1141 L351 1140.82 L352.48 1140.63 L353.97 1140.44 L355.45 1140.25 L356.94 1140.05 L358.42 1139.85 L359.9 1139.65 L361.38 1139.44 L362.87 1139.23 L364.35 1139.01 L365.83 1138.78 L367.31 1138.56 L368.78 1138.33 L370.26 1138.09 L371.74 1137.85 L373.22 1137.6 L374.69 1137.35 L376.17 1137.1 L377.64 1136.83 L379.11 1136.57 L380.58 1136.3 L382.05 1136.02 L383.52 1135.73 L384.99 1135.45 L386.46 1135.15 L387.93 1134.85 L389.39 1134.54 L390.85 1134.23 L392.32 1133.91 L393.78 1133.59 L395.24 1133.26 L396.69 1132.92 L398.15 1132.58 L399.61 1132.22 L401.06 1131.87 L402.51 1131.5 L403.96 1131.13 L405.41 1130.75 L406.85 1130.37 L408.3 1129.97 L409.74 1129.57 L411.18 1129.17 L412.62 1128.75 L414.05 1128.33 L415.49 1127.9 L416.92 1127.46 L418.35 1127.01 L419.77 1126.56 L421.2 1126.09 L422.62 1125.62 L424.03 1125.14 L425.45 1124.66 L426.86 1124.16 L428.27 1123.65 L429.68 1123.14 L431.08 1122.62 L432.48 1122.09 L433.87 1121.55 L435.27 1121 L436.65 1120.44 L438.04 1119.87 L439.42 1119.3 L440.8 1118.71 L442.17 1118.12 L443.54 1117.51 L444.91 1116.9 L446.27 1116.28 L447.62 1115.64 L448.97 1115 L450.32 1114.35 L451.66 1113.68 L453 1113.01 L454.33 1112.32 L455.65 1111.63 L456.97 1110.92 L458.29 1110.21 L459.6 1109.48 L460.9 1108.74 L462.19 1107.99 L463.48 1107.23 L464.77 1106.46 L466.04 1105.68 L467.31 1104.89 L468.58 1104.09 L469.83 1103.28 L471.08 1102.45 L472.33 1101.62 L473.56 1100.77 L474.79 1099.92 L476.01 1099.05 L477.22 1098.17 L478.42 1097.28 L479.62 1096.38 L480.81 1095.47 L481.99 1094.55 L483.16 1093.62 L484.33 1092.68 L485.48 1091.73 L486.63 1090.77 L487.77 1089.8 L488.9 1088.82 L490.02 1087.83 L491.14 1086.83 L492.24 1085.82 L493.34 1084.8 L494.42 1083.77 L495.5 1082.74 L496.57 1081.69 L497.63 1080.63 L498.68 1079.57 L499.73 1078.5 L500.76 1077.42 L501.79 1076.32 L502.8 1075.23 L503.81 1074.12 L504.81 1073 L505.8 1071.88 L506.78 1070.75 L507.75 1069.61 L508.72 1068.47 L509.67 1067.32 L510.62 1066.16 L511.56 1065 L512.5 1063.83 L513.42 1062.65 L514.34 1061.47 L515.25 1060.28 L516.15 1059.08 L517.04 1057.88 L517.93 1056.68 L518.81 1055.47 L519.69 1054.25 L520.55 1053.03 L521.41 1051.81 L522.27 1050.58 L523.11 1049.35 L523.95 1048.11 L524.79 1046.87 L525.62 1045.62 L526.44 1044.37 L527.26 1043.12 L528.07 1041.86 L528.87 1040.6 L529.67 1039.33 L530.46 1038.06 L531.25 1036.79 L532.04 1035.51 L532.81 1034.24 L533.59 1032.95 L534.35 1031.67 L535.12 1030.38 L535.87 1029.09 L536.63 1027.8 L537.37 1026.5 L538.12 1025.2 L538.86 1023.9 L539.59 1022.59 L540.32 1021.29 L541.04 1019.98 L541.77 1018.67 L542.48 1017.35 L543.2 1016.04 L543.9 1014.72 L544.61 1013.4 L545.31 1012.08 L546.01 1010.75 L546.7 1009.43 L547.39 1008.1 L548.08 1006.77 L548.76 1005.44 L549.44 1004.1 L550.11 1002.77 L550.78 1001.43 L551.45 1000.09 L552.12 998.75 L552.78 997.41 L553.43 996.06 L554.09 994.72 L554.74 993.37 L555.38 992.02 L556.03 990.67 L556.67 989.31 L557.3 987.96 L557.94 986.6 L558.56 985.24 L559.19 983.88 L559.81 982.52 L560.43 981.16 L561.04 979.8 L561.65 978.43 L562.26 977.06 L562.87 975.69 L563.47 974.32 L564.06 972.95 L564.66 971.57 L565.25 970.2 L565.83 968.82 L566.42 967.44 L567 966.06 L567.57 964.68 L568.14 963.3 L568.71 961.92 L569.28 960.53 L569.84 959.14 L570.4 957.75 L570.95 956.36 L571.51 954.97 L572.06 953.58 L572.6 952.19 L573.14 950.79 L573.68 949.4 L574.22 948 L574.75 946.6 L575.28 945.2 L575.8 943.8 L576.32 942.4 L576.84 940.99 L577.36 939.59 L577.87 938.18 L578.38 936.77 L578.89 935.37 L579.39 933.96 L579.89 932.55 L580.39 931.13 L580.88 929.72 L581.37 928.31 L581.86 926.89 L582.35 925.48 L582.83 924.06 L583.31 922.64 L583.78 921.22 L584.25 919.8 L584.72 918.38 L585.19 916.96 L585.66 915.54 L586.12 914.11 L586.58 912.69 L587.04 911.27 L587.5 909.84 L587.96 908.42 L588.41 906.99 L588.87 905.57 L589.32 904.14 L589.78 902.71 L590.23 901.29 L590.68 899.86 L591.13 898.43 L591.59 897.01 L592.04 895.58 L592.49 894.15 L592.94 892.73 L593.4 891.3 L593.85 889.87 L594.3 888.45 L594.76 887.02 L595.21 885.6 L595.67 884.17 L596.13 882.75 L596.58 881.32 L597.04 879.9" fill="none" stroke="#0804E4" stroke-width="4.8" stroke-linecap="round" stroke-linejoin="round" stroke-dasharray="7.2 8.3"/>
<path d="M138.42 1138.76 L139.39 1139.91 L140.4 1141.01 L141.46 1142.07 L142.56 1143.08 L143.71 1144.04 L144.91 1144.94 L146.15 1145.77 L147.44 1146.55 L148.75 1147.26 L150.1 1147.92 L151.48 1148.51 L152.88 1149.04 L154.3 1149.52 L155.73 1149.95 L157.18 1150.34 L158.64 1150.68 L160.1 1150.99 L161.58 1151.26 L163.05 1151.51 L164.53 1151.73 L166.02 1151.92 L167.51 1152.1 L169 1152.26 L170.49 1152.41 L171.98 1152.54 L173.47 1152.66 L174.97 1152.77 L176.46 1152.87 L177.96 1152.97 L179.45 1153.06 L180.95 1153.14 L182.44 1153.22 L183.94 1153.29 L185.44 1153.36 L186.93 1153.43 L188.43 1153.49 L189.93 1153.55 L191.42 1153.61 L192.92 1153.67 L194.42 1153.72 L195.91 1153.77 L197.41 1153.83 L198.91 1153.87 L200.41 1153.92 L201.9 1153.97 L203.4 1154.01 L204.9 1154.06 L206.4 1154.1 L207.89 1154.14 L209.39 1154.18 L210.89 1154.21 L212.39 1154.25 L213.88 1154.28 L215.38 1154.31 L216.88 1154.34 L218.38 1154.37 L219.87 1154.4 L221.37 1154.42 L222.87 1154.44 L224.37 1154.46 L225.87 1154.48 L227.36 1154.49 L228.86 1154.5 L230.36 1154.51 L231.86 1154.51 L233.36 1154.52 L234.85 1154.52 L236.35 1154.52 L237.85 1154.52 L239.35 1154.51 L240.85 1154.5 L242.34 1154.49 L243.84 1154.48 L245.34 1154.46 L246.84 1154.45 L248.34 1154.43 L249.83 1154.41 L251.33 1154.38 L252.83 1154.36 L254.33 1154.33 L255.82 1154.3 L257.32 1154.27 L258.82 1154.23 L260.32 1154.19 L261.82 1154.16 L263.31 1154.11 L264.81 1154.07 L266.31 1154.03 L267.8 1153.98 L269.3 1153.93 L270.8 1153.88 L272.3 1153.82 L273.79 1153.76 L275.29 1153.71 L276.79 1153.64 L278.28 1153.58 L279.78 1153.52 L281.28 1153.45 L282.77 1153.38 L284.27 1153.31 L285.77 1153.23 L287.26 1153.15 L288.76 1153.08 L290.25 1153 L291.75 1152.91 L293.24 1152.83 L294.74 1152.74 L296.24 1152.65 L297.73 1152.56 L299.23 1152.46 L300.72 1152.36 L302.21 1152.26 L303.71 1152.16 L305.2 1152.06 L306.7 1151.95 L308.19 1151.84 L309.69 1151.73 L311.18 1151.62 L312.67 1151.5 L314.17 1151.38 L315.66 1151.26 L317.15 1151.14 L318.65 1151.01 L320.14 1150.88 L321.63 1150.75 L323.12 1150.62 L324.61 1150.48 L326.11 1150.34 L327.6 1150.2 L329.09 1150.05 L330.58 1149.91 L332.07 1149.76 L333.56 1149.6 L335.05 1149.45 L336.54 1149.29 L338.03 1149.12 L339.52 1148.96 L341 1148.79 L342.49 1148.62 L343.98 1148.45 L345.47 1148.27 L346.96 1148.09 L348.44 1147.9 L349.93 1147.72 L351.41 1147.53 L352.9 1147.33 L354.38 1147.14 L355.87 1146.93 L357.35 1146.73 L358.84 1146.52 L360.32 1146.31 L361.8 1146.1 L363.28 1145.88 L364.77 1145.66 L366.25 1145.43 L367.73 1145.2 L369.21 1144.96 L370.69 1144.73 L372.16 1144.48 L373.64 1144.24 L375.12 1143.99 L376.59 1143.73 L378.07 1143.47 L379.54 1143.21 L381.02 1142.94 L382.49 1142.67 L383.96 1142.39 L385.43 1142.11 L386.9 1141.82 L388.37 1141.53 L389.84 1141.23 L391.31 1140.93 L392.78 1140.62 L394.24 1140.31 L395.71 1139.99 L397.17 1139.67 L398.63 1139.34 L400.09 1139.01 L401.55 1138.67 L403.01 1138.33 L404.46 1137.98 L405.92 1137.62 L407.37 1137.26 L408.82 1136.89 L410.27 1136.51 L411.72 1136.13 L413.17 1135.75 L414.62 1135.35 L416.06 1134.95 L417.5 1134.55 L418.94 1134.13 L420.38 1133.71 L421.82 1133.29 L423.25 1132.85 L424.68 1132.41 L426.11 1131.97 L427.54 1131.51 L428.96 1131.05 L430.39 1130.58 L431.81 1130.1 L433.22 1129.62 L434.64 1129.12 L436.05 1128.62 L437.45 1128.1 L438.86 1127.58 L440.26 1127.05 L441.66 1126.51 L443.05 1125.96 L444.44 1125.4 L445.82 1124.83 L447.2 1124.25 L448.58 1123.66 L449.95 1123.05 L451.32 1122.44 L452.68 1121.82 L454.04 1121.18 L455.39 1120.54 L456.74 1119.88 L458.08 1119.22 L459.41 1118.54 L460.74 1117.85 L462.07 1117.14 L463.38 1116.43 L464.69 1115.7 L466 1114.97 L467.3 1114.22 L468.59 1113.46 L469.87 1112.69 L471.15 1111.9 L472.42 1111.11 L473.68 1110.3 L474.93 1109.48 L476.18 1108.65 L477.42 1107.8 L478.65 1106.95 L479.87 1106.08 L481.08 1105.2 L482.29 1104.32 L483.48 1103.41 L484.67 1102.5 L485.85 1101.58 L487.02 1100.64 L488.18 1099.7 L489.34 1098.74 L490.48 1097.77 L491.61 1096.79 L492.74 1095.8 L493.85 1094.81 L494.96 1093.8 L496.06 1092.78 L497.15 1091.75 L498.23 1090.71 L499.31 1089.67 L500.37 1088.62 L501.43 1087.55 L502.47 1086.48 L503.51 1085.4 L504.54 1084.31 L505.56 1083.22 L506.58 1082.12 L507.58 1081.01 L508.58 1079.89 L509.57 1078.77 L510.56 1077.63 L511.53 1076.5 L512.5 1075.35 L513.46 1074.2 L514.41 1073.04 L515.35 1071.88 L516.29 1070.71 L517.22 1069.54 L518.14 1068.36 L519.05 1067.17 L519.96 1065.98 L520.86 1064.78 L521.76 1063.58 L522.65 1062.37 L523.53 1061.16 L524.4 1059.95 L525.27 1058.73 L526.13 1057.5 L526.98 1056.27 L527.83 1055.03 L528.68 1053.8 L529.51 1052.55 L530.34 1051.31 L531.17 1050.06 L531.99 1048.8 L532.8 1047.54 L533.61 1046.28 L534.41 1045.02 L535.2 1043.75 L535.99 1042.47 L536.78 1041.2 L537.56 1039.92 L538.33 1038.64 L539.1 1037.35 L539.87 1036.06 L540.63 1034.77 L541.38 1033.48 L542.13 1032.18 L542.88 1030.88 L543.62 1029.58 L544.35 1028.28 L545.09 1026.97 L545.81 1025.66 L546.53 1024.35 L547.25 1023.03 L547.97 1021.71 L548.68 1020.4 L549.38 1019.07 L550.08 1017.75 L550.78 1016.42 L551.47 1015.1 L552.16 1013.77 L552.85 1012.43 L553.53 1011.1 L554.21 1009.76 L554.88 1008.43 L555.55 1007.09 L556.22 1005.75 L556.88 1004.4 L557.54 1003.06 L558.2 1001.71 L558.85 1000.36 L559.5 999.01 L560.15 997.66 L560.79 996.31 L561.44 994.96 L562.07 993.6 L562.71 992.24 L563.34 990.89 L563.97 989.53 L564.59 988.16 L565.22 986.8 L565.84 985.44 L566.45 984.07 L567.07 982.71 L567.68 981.34 L568.29 979.97 L568.89 978.6 L569.5 977.23 L570.1 975.86 L570.7 974.48 L571.29 973.11 L571.89 971.73 L572.48 970.36 L573.07 968.98 L573.65 967.6 L574.23 966.22 L574.81 964.84 L575.39 963.46 L575.97 962.07 L576.54 960.69 L577.11 959.3 L577.67 957.92 L578.24 956.53 L578.8 955.14 L579.36 953.75 L579.92 952.36 L580.47 950.97 L581.02 949.58 L581.57 948.18 L582.12 946.79 L582.67 945.39 L583.21 944 L583.75 942.6 L584.29 941.2 L584.82 939.8 L585.35 938.4 L585.88 937 L586.41 935.6 L586.94 934.2 L587.46 932.79 L587.98 931.39 L588.5 929.98 L589.02 928.58 L589.53 927.17 L590.04 925.76 L590.55 924.35 L591.06 922.94 L591.56 921.53 L592.07 920.12 L592.57 918.71 L593.07 917.3 L593.56 915.88 L594.06 914.47 L594.55 913.05 L595.04 911.64 L595.52 910.22 L596.01 908.81 L596.49 907.39 L596.97 905.97 L597.45 904.55 L597.93 903.13 L598.4 901.71 L598.88 900.29 L599.35 898.86 L599.81 897.44 L600.28 896.02" fill="none" stroke="#000000" stroke-width="4.8" stroke-linecap="round" stroke-linejoin="round"/>
<path d="M102 1192V1186M102 651V657M131.81 1192V1177.4M131.81 651V665.6M161.62 1192V1186M161.62 651V657M191.43 1192V1186M191.43 651V657M221.24 1192V1186M221.24 651V657M251.06 1192V1177.4M251.06 651V665.6M280.87 1192V1186M280.87 651V657M310.68 1192V1186M310.68 651V657M340.49 1192V1186M340.49 651V657M370.3 1192V1177.4M370.3 651V665.6M400.11 1192V1186M400.11 651V657M429.92 1192V1186M429.92 651V657M459.73 1192V1186M459.73 651V657M489.54 1192V1177.4M489.54 651V665.6M519.36 1192V1186M519.36 651V657M549.17 1192V1186M549.17 651V657M578.98 1192V1186M578.98 651V657M608.79 1192V1177.4M608.79 651V665.6M638.6 1192V1186M638.6 651V657M102 1192H115M638.6 1192H625.6M102 1164.95H108M638.6 1164.95H632.6M102 1137.9H108M638.6 1137.9H632.6M102 1110.85H108M638.6 1110.85H632.6M102 1083.8H115M638.6 1083.8H625.6M102 1056.75H108M638.6 1056.75H632.6M102 1029.7H108M638.6 1029.7H632.6M102 1002.65H108M638.6 1002.65H632.6M102 975.6H115M638.6 975.6H625.6M102 948.55H108M638.6 948.55H632.6M102 921.5H108M638.6 921.5H632.6M102 894.45H108M638.6 894.45H632.6M102 867.4H115M638.6 867.4H625.6M102 840.35H108M638.6 840.35H632.6M102 813.3H108M638.6 813.3H632.6M102 786.25H108M638.6 786.25H632.6M102 759.2H115M638.6 759.2H625.6M102 732.15H108M638.6 732.15H632.6M102 705.1H108M638.6 705.1H632.6M102 678.05H108M638.6 678.05H632.6M102 651H115M638.6 651H625.6" fill="none" stroke="#000" stroke-width="2.7"/>
<rect x="102" y="651" width="536.6" height="541" fill="none" stroke="#000" stroke-width="3.0"/>
<text transform="translate(131.81 1228.3) scale(1 1.07)" font-size="30.4" text-anchor="middle">4</text>
<text transform="translate(251.06 1228.3) scale(1 1.07)" font-size="30.4" text-anchor="middle">4. </text><path transform="translate(255.28 1228.3) scale(0.01484 -0.01588)" d="M583 0L763 0L763 1409L646 1409Q560 1230 223 1075L223 905Q430 985 583 1100Z"/>
<text transform="translate(370.3 1228.3) scale(1 1.07)" font-size="30.4" text-anchor="middle">4.2</text>
<text transform="translate(489.54 1228.3) scale(1 1.07)" font-size="30.4" text-anchor="middle">4.3</text>
<text transform="translate(608.79 1228.3) scale(1 1.07)" font-size="30.4" text-anchor="middle">4.4</text>
<text transform="translate(93.5 1203.3) scale(1 1.07)" font-size="30.4" text-anchor="end">0</text>
<text transform="translate(93.5 1095.1) scale(1 1.07)" font-size="30.4" text-anchor="end">0.05</text>
<text transform="translate(93.5 986.9) scale(1 1.07)" font-size="30.4" text-anchor="end">0. </text><path transform="translate(76.59 986.9) scale(0.01484 -0.01588)" d="M583 0L763 0L763 1409L646 1409Q560 1230 223 1075L223 905Q430 985 583 1100Z"/>
<text transform="translate(93.5 878.7) scale(1 1.07)" font-size="30.4" text-anchor="end">0. 5</text><path transform="translate(59.69 878.7) scale(0.01484 -0.01588)" d="M583 0L763 0L763 1409L646 1409Q560 1230 223 1075L223 905Q430 985 583 1100Z"/>
<text transform="translate(93.5 770.5) scale(1 1.07)" font-size="30.4" text-anchor="end">0.2</text>
<text transform="translate(93.5 662.3) scale(1 1.07)" font-size="30.4" text-anchor="end">0.25</text>
<text transform="translate(370.3 1264.7) scale(1 1.02)" font-size="32.7" text-anchor="middle" stroke="#000" stroke-width="0.35">Voltage (V)</text>
<text transform="translate(24.3 921.5) rotate(-90) scale(1 1.02)" font-size="32.7" text-anchor="middle" stroke="#000" stroke-width="0.35">Parasitic Heat Flow (mW)</text>
<text transform="translate(132.9 712.5) scale(1 1.055)" font-size="40.7">7) 4.0 V - 4.4 V</text>
<path d="M715.54 1086.01 L716.44 1087.21 L717.39 1088.37 L718.39 1089.48 L719.45 1090.54 L720.57 1091.55 L721.74 1092.48 L722.96 1093.35 L724.24 1094.14 L725.56 1094.85 L726.92 1095.48 L728.31 1096.03 L729.73 1096.51 L731.18 1096.92 L732.64 1097.26 L734.11 1097.53 L735.59 1097.76 L737.08 1097.93 L738.58 1098.05 L740.07 1098.14 L741.57 1098.2 L743.07 1098.22 L744.57 1098.22 L746.07 1098.19 L747.57 1098.14 L749.07 1098.08 L750.56 1098 L752.06 1097.9 L753.56 1097.79 L755.05 1097.68 L756.55 1097.55 L758.04 1097.42 L759.53 1097.28 L761.02 1097.13 L762.52 1096.98 L764.01 1096.82 L765.5 1096.66 L766.99 1096.5 L768.48 1096.33 L769.97 1096.16 L771.46 1095.99 L772.95 1095.81 L774.44 1095.64 L775.93 1095.46 L777.41 1095.28 L778.9 1095.1 L780.39 1094.92 L781.88 1094.74 L783.37 1094.56 L784.86 1094.37 L786.35 1094.19 L787.83 1094 L789.32 1093.82 L790.81 1093.63 L792.3 1093.45 L793.79 1093.26 L795.27 1093.07 L796.76 1092.88 L798.25 1092.7 L799.74 1092.51 L801.22 1092.32 L802.71 1092.13 L804.2 1091.94 L805.69 1091.75 L807.17 1091.56 L808.66 1091.37 L810.15 1091.18 L811.64 1090.99 L813.12 1090.8 L814.61 1090.6 L816.1 1090.41 L817.58 1090.22 L819.07 1090.03 L820.56 1089.83 L822.04 1089.64 L823.53 1089.44 L825.02 1089.25 L826.51 1089.05 L827.99 1088.85 L829.48 1088.66 L830.96 1088.46 L832.45 1088.26 L833.94 1088.06 L835.42 1087.86 L836.91 1087.66 L838.39 1087.46 L839.88 1087.25 L841.37 1087.05 L842.85 1086.84 L844.34 1086.64 L845.82 1086.43 L847.31 1086.23 L848.79 1086.02 L850.28 1085.81 L851.76 1085.6 L853.25 1085.39 L854.73 1085.17 L856.21 1084.96 L857.7 1084.74 L859.18 1084.53 L860.67 1084.31 L862.15 1084.09 L863.63 1083.87 L865.12 1083.65 L866.6 1083.43 L868.08 1083.2 L869.56 1082.98 L871.05 1082.75 L872.53 1082.52 L874.01 1082.29 L875.49 1082.06 L876.97 1081.82 L878.45 1081.59 L879.93 1081.35 L881.41 1081.11 L882.89 1080.87 L884.37 1080.63 L885.85 1080.38 L887.33 1080.13 L888.81 1079.89 L890.29 1079.63 L891.77 1079.38 L893.25 1079.13 L894.72 1078.87 L896.2 1078.61 L897.68 1078.35 L899.15 1078.08 L900.63 1077.82 L902.1 1077.55 L903.58 1077.28 L905.05 1077.01 L906.53 1076.73 L908 1076.45 L909.47 1076.17 L910.95 1075.89 L912.42 1075.6 L913.89 1075.31 L915.36 1075.02 L916.83 1074.72 L918.3 1074.42 L919.77 1074.12 L921.24 1073.82 L922.7 1073.51 L924.17 1073.2 L925.64 1072.89 L927.1 1072.57 L928.57 1072.26 L930.03 1071.93 L931.5 1071.61 L932.96 1071.28 L934.42 1070.94 L935.88 1070.61 L937.34 1070.27 L938.8 1069.92 L940.26 1069.58 L941.72 1069.23 L943.18 1068.87 L944.63 1068.51 L946.09 1068.15 L947.54 1067.78 L949 1067.41 L950.45 1067.04 L951.9 1066.66 L953.35 1066.28 L954.8 1065.89 L956.24 1065.5 L957.69 1065.1 L959.14 1064.7 L960.58 1064.3 L962.02 1063.89 L963.46 1063.48 L964.9 1063.06 L966.34 1062.64 L967.78 1062.21 L969.22 1061.78 L970.65 1061.34 L972.08 1060.9 L973.52 1060.46 L974.95 1060 L976.37 1059.55 L977.8 1059.09 L979.23 1058.62 L980.65 1058.15 L982.07 1057.67 L983.49 1057.19 L984.91 1056.7 L986.33 1056.21 L987.74 1055.71 L989.15 1055.21 L990.56 1054.7 L991.97 1054.18 L993.38 1053.66 L994.78 1053.14 L996.18 1052.61 L997.58 1052.07 L998.98 1051.53 L1000.38 1050.98 L1001.77 1050.42 L1003.16 1049.86 L1004.55 1049.3 L1005.94 1048.72 L1007.32 1048.14 L1008.7 1047.56 L1010.08 1046.97 L1011.45 1046.37 L1012.83 1045.77 L1014.2 1045.16 L1015.56 1044.54 L1016.93 1043.92 L1018.29 1043.29 L1019.65 1042.66 L1021 1042.02 L1022.36 1041.37 L1023.71 1040.72 L1025.05 1040.06 L1026.4 1039.39 L1027.74 1038.72 L1029.07 1038.04 L1030.41 1037.35 L1031.74 1036.66 L1033.06 1035.96 L1034.39 1035.25 L1035.7 1034.54 L1037.02 1033.82 L1038.33 1033.1 L1039.64 1032.36 L1040.95 1031.63 L1042.25 1030.88 L1043.55 1030.13 L1044.84 1029.37 L1046.13 1028.6 L1047.41 1027.83 L1048.7 1027.05 L1049.97 1026.27 L1051.25 1025.48 L1052.52 1024.68 L1053.78 1023.87 L1055.04 1023.06 L1056.3 1022.24 L1057.55 1021.42 L1058.8 1020.59 L1060.04 1019.75 L1061.28 1018.91 L1062.52 1018.06 L1063.75 1017.2 L1064.97 1016.33 L1066.19 1015.46 L1067.41 1014.59 L1068.62 1013.71 L1069.83 1012.82 L1071.03 1011.92 L1072.23 1011.02 L1073.43 1010.11 L1074.61 1009.2 L1075.8 1008.28 L1076.98 1007.35 L1078.15 1006.42 L1079.32 1005.48 L1080.48 1004.53 L1081.64 1003.58 L1082.8 1002.63 L1083.95 1001.66 L1085.09 1000.69 L1086.23 999.72 L1087.37 998.74 L1088.5 997.75 L1089.62 996.76 L1090.74 995.76 L1091.85 994.76 L1092.96 993.75 L1094.07 992.74 L1095.17 991.72 L1096.26 990.69 L1097.35 989.66 L1098.44 988.63 L1099.51 987.58 L1100.59 986.54 L1101.66 985.49 L1102.72 984.43 L1103.78 983.37 L1104.83 982.3 L1105.88 981.23 L1106.92 980.15 L1107.96 979.07 L1109 977.98 L1110.02 976.89 L1111.05 975.79 L1112.07 974.69 L1113.08 973.59 L1114.09 972.48 L1115.09 971.36 L1116.09 970.24 L1117.08 969.12 L1118.07 967.99 L1119.05 966.86 L1120.03 965.72 L1121 964.58 L1121.97 963.43 L1122.93 962.29 L1123.89 961.13 L1124.84 959.97 L1125.79 958.81 L1126.73 957.65 L1127.67 956.48 L1128.61 955.3 L1129.54 954.13 L1130.46 952.95 L1131.38 951.76 L1132.29 950.57 L1133.2 949.38 L1134.11 948.19 L1135.01 946.99 L1135.91 945.79 L1136.8 944.58 L1137.68 943.37 L1138.57 942.16 L1139.44 940.94 L1140.32 939.72 L1141.19 938.5 L1142.05 937.27 L1142.91 936.05 L1143.77 934.81 L1144.62 933.58 L1145.46 932.34 L1146.3 931.1 L1147.14 929.86 L1147.98 928.61 L1148.8 927.36 L1149.63 926.11 L1150.45 924.85 L1151.27 923.6 L1152.08 922.33 L1152.89 921.07 L1153.69 919.81 L1154.49 918.54 L1155.29 917.27 L1156.08 915.99 L1156.86 914.72 L1157.65 913.44 L1158.43 912.16 L1159.2 910.87 L1159.98 909.59 L1160.74 908.3 L1161.51 907.01 L1162.27 905.72 L1163.02 904.42 L1163.78 903.13 L1164.53 901.83 L1165.27 900.53 L1166.01 899.22 L1166.75 897.92 L1167.48 896.61 L1168.21 895.3 L1168.94 893.99 L1169.66 892.67 L1170.38 891.36 L1171.1 890.04 L1171.81 888.72 L1172.52 887.4 L1173.23 886.08 L1173.93 884.75 L1174.63 883.43 L1175.32 882.1" fill="none" stroke="#EC5E0E" stroke-width="4.8" stroke-linecap="round" stroke-linejoin="round"/>
<path d="M714.89 1125.56 L715.89 1126.67 L716.94 1127.74 L718.03 1128.76 L719.16 1129.74 L720.34 1130.66 L721.56 1131.53 L722.82 1132.34 L724.11 1133.09 L725.44 1133.78 L726.79 1134.42 L728.17 1135 L729.57 1135.53 L730.99 1136.01 L732.42 1136.44 L733.87 1136.83 L735.32 1137.18 L736.78 1137.49 L738.25 1137.77 L739.73 1138.01 L741.21 1138.23 L742.69 1138.43 L744.18 1138.6 L745.67 1138.76 L747.16 1138.89 L748.65 1139.02 L750.14 1139.12 L751.64 1139.22 L753.13 1139.3 L754.63 1139.37 L756.12 1139.43 L757.62 1139.49 L759.11 1139.53 L760.61 1139.57 L762.11 1139.61 L763.6 1139.64 L765.1 1139.66 L766.59 1139.68 L768.09 1139.7 L769.59 1139.71 L771.08 1139.71 L772.58 1139.72 L774.08 1139.72 L775.57 1139.72 L777.07 1139.72 L778.57 1139.71 L780.06 1139.7 L781.56 1139.69 L783.06 1139.68 L784.55 1139.67 L786.05 1139.65 L787.55 1139.64 L789.04 1139.62 L790.54 1139.6 L792.03 1139.57 L793.53 1139.55 L795.03 1139.53 L796.52 1139.5 L798.02 1139.47 L799.52 1139.44 L801.01 1139.41 L802.51 1139.38 L804 1139.35 L805.5 1139.32 L807 1139.28 L808.49 1139.24 L809.99 1139.21 L811.48 1139.17 L812.98 1139.13 L814.48 1139.09 L815.97 1139.04 L817.47 1139 L818.96 1138.95 L820.46 1138.91 L821.96 1138.86 L823.45 1138.81 L824.95 1138.76 L826.44 1138.71 L827.94 1138.66 L829.43 1138.6 L830.93 1138.55 L832.43 1138.49 L833.92 1138.43 L835.42 1138.37 L836.91 1138.31 L838.41 1138.25 L839.9 1138.18 L841.4 1138.12 L842.89 1138.05 L844.39 1137.99 L845.88 1137.92 L847.38 1137.85 L848.87 1137.77 L850.37 1137.7 L851.86 1137.63 L853.36 1137.55 L854.85 1137.47 L856.34 1137.39 L857.84 1137.31 L859.33 1137.23 L860.83 1137.14 L862.32 1137.06 L863.82 1136.97 L865.31 1136.88 L866.8 1136.79 L868.3 1136.7 L869.79 1136.6 L871.28 1136.51 L872.78 1136.41 L874.27 1136.31 L875.76 1136.21 L877.26 1136.11 L878.75 1136.01 L880.24 1135.9 L881.73 1135.79 L883.23 1135.68 L884.72 1135.57 L886.21 1135.46 L887.7 1135.34 L889.2 1135.22 L890.69 1135.1 L892.18 1134.98 L893.67 1134.86 L895.16 1134.73 L896.65 1134.61 L898.14 1134.48 L899.63 1134.34 L901.13 1134.21 L902.62 1134.07 L904.11 1133.94 L905.6 1133.8 L907.09 1133.65 L908.57 1133.51 L910.06 1133.36 L911.55 1133.21 L913.04 1133.06 L914.53 1132.91 L916.02 1132.75 L917.51 1132.59 L918.99 1132.43 L920.48 1132.26 L921.97 1132.1 L923.46 1131.93 L924.94 1131.76 L926.43 1131.58 L927.92 1131.41 L929.4 1131.23 L930.89 1131.04 L932.37 1130.86 L933.86 1130.67 L935.34 1130.48 L936.82 1130.28 L938.31 1130.09 L939.79 1129.89 L941.27 1129.69 L942.76 1129.48 L944.24 1129.27 L945.72 1129.06 L947.2 1128.84 L948.68 1128.62 L950.16 1128.4 L951.64 1128.18 L953.12 1127.95 L954.6 1127.72 L956.08 1127.48 L957.55 1127.24 L959.03 1127 L960.51 1126.76 L961.98 1126.51 L963.46 1126.25 L964.93 1126 L966.4 1125.74 L967.88 1125.47 L969.35 1125.21 L970.82 1124.93 L972.29 1124.66 L973.76 1124.38 L975.23 1124.09 L976.7 1123.81 L978.17 1123.51 L979.64 1123.22 L981.1 1122.92 L982.57 1122.61 L984.03 1122.3 L985.49 1121.99 L986.96 1121.67 L988.42 1121.35 L989.88 1121.02 L991.34 1120.69 L992.79 1120.35 L994.25 1120.01 L995.71 1119.66 L997.16 1119.31 L998.62 1118.95 L1000.07 1118.59 L1001.52 1118.22 L1002.97 1117.85 L1004.42 1117.47 L1005.86 1117.09 L1007.31 1116.71 L1008.75 1116.31 L1010.2 1115.91 L1011.64 1115.51 L1013.08 1115.1 L1014.51 1114.68 L1015.95 1114.26 L1017.38 1113.84 L1018.82 1113.4 L1020.25 1112.97 L1021.68 1112.52 L1023.1 1112.07 L1024.53 1111.62 L1025.95 1111.15 L1027.37 1110.68 L1028.79 1110.21 L1030.21 1109.73 L1031.62 1109.24 L1033.04 1108.75 L1034.45 1108.24 L1035.85 1107.74 L1037.26 1107.22 L1038.66 1106.7 L1040.06 1106.18 L1041.46 1105.64 L1042.86 1105.1 L1044.25 1104.55 L1045.64 1104 L1047.03 1103.44 L1048.41 1102.87 L1049.79 1102.29 L1051.17 1101.71 L1052.55 1101.12 L1053.92 1100.52 L1055.29 1099.91 L1056.65 1099.3 L1058.01 1098.68 L1059.37 1098.06 L1060.73 1097.42 L1062.08 1096.78 L1063.43 1096.13 L1064.77 1095.47 L1066.11 1094.81 L1067.45 1094.14 L1068.78 1093.46 L1070.11 1092.77 L1071.44 1092.07 L1072.76 1091.37 L1074.08 1090.66 L1075.39 1089.94 L1076.7 1089.21 L1078 1088.48 L1079.3 1087.74 L1080.6 1086.99 L1081.89 1086.23 L1083.17 1085.47 L1084.45 1084.69 L1085.73 1083.91 L1087 1083.12 L1088.27 1082.33 L1089.53 1081.52 L1090.79 1080.71 L1092.04 1079.89 L1093.29 1079.06 L1094.53 1078.23 L1095.77 1077.38 L1097 1076.53 L1098.22 1075.67 L1099.44 1074.81 L1100.66 1073.93 L1101.87 1073.05 L1103.07 1072.16 L1104.27 1071.27 L1105.46 1070.36 L1106.65 1069.45 L1107.83 1068.53 L1109.01 1067.61 L1110.18 1066.67 L1111.34 1065.73 L1112.5 1064.78 L1113.65 1063.83 L1114.8 1062.87 L1115.94 1061.9 L1117.07 1060.92 L1118.2 1059.94 L1119.32 1058.95 L1120.44 1057.95 L1121.55 1056.95 L1122.65 1055.94 L1123.75 1054.92 L1124.84 1053.9 L1125.93 1052.87 L1127 1051.83 L1128.08 1050.79 L1129.14 1049.74 L1130.2 1048.68 L1131.26 1047.62 L1132.31 1046.55 L1133.35 1045.48 L1134.39 1044.4 L1135.42 1043.31 L1136.44 1042.22 L1137.46 1041.12 L1138.47 1040.02 L1139.47 1038.91 L1140.47 1037.79 L1141.46 1036.68 L1142.45 1035.55 L1143.43 1034.42 L1144.41 1033.28 L1145.37 1032.14 L1146.34 1031 L1147.29 1029.84 L1148.24 1028.69 L1149.19 1027.53 L1150.13 1026.36 L1151.06 1025.19 L1151.98 1024.02 L1152.9 1022.84 L1153.82 1021.65 L1154.73 1020.46 L1155.63 1019.27 L1156.53 1018.07 L1157.42 1016.87 L1158.3 1015.66 L1159.18 1014.45 L1160.06 1013.24 L1160.93 1012.02 L1161.79 1010.8 L1162.65 1009.57 L1163.5 1008.34 L1164.35 1007.1 L1165.19 1005.87 L1166.02 1004.63 L1166.85 1003.38 L1167.68 1002.13 L1168.5 1000.88 L1169.31 999.62 L1170.12 998.36 L1170.92 997.1 L1171.72 995.84 L1172.52 994.57 L1173.3 993.3 L1174.09 992.02 L1174.87 990.74 L1175.64 989.46" fill="none" stroke="#E50D0D" stroke-width="4.8" stroke-linecap="round" stroke-linejoin="round"/>
<path d="M715.33 1139.28 L716.28 1140.43 L717.29 1141.54 L718.36 1142.58 L719.49 1143.56 L720.68 1144.48 L721.91 1145.32 L723.2 1146.08 L724.53 1146.77 L725.89 1147.39 L727.28 1147.94 L728.7 1148.42 L730.13 1148.85 L731.58 1149.22 L733.04 1149.55 L734.51 1149.84 L735.98 1150.1 L737.46 1150.32 L738.95 1150.52 L740.43 1150.7 L741.92 1150.86 L743.41 1151 L744.9 1151.12 L746.4 1151.24 L747.89 1151.34 L749.38 1151.43 L750.88 1151.52 L752.37 1151.6 L753.87 1151.67 L755.36 1151.74 L756.86 1151.8 L758.35 1151.86 L759.85 1151.92 L761.34 1151.97 L762.84 1152.02 L764.33 1152.06 L765.83 1152.11 L767.33 1152.15 L768.82 1152.19 L770.32 1152.23 L771.81 1152.27 L773.31 1152.3 L774.81 1152.34 L776.3 1152.37 L777.8 1152.4 L779.29 1152.43 L780.79 1152.46 L782.29 1152.49 L783.78 1152.51 L785.28 1152.54 L786.78 1152.56 L788.27 1152.59 L789.77 1152.61 L791.27 1152.63 L792.76 1152.65 L794.26 1152.67 L795.76 1152.68 L797.25 1152.7 L798.75 1152.71 L800.24 1152.73 L801.74 1152.74 L803.24 1152.75 L804.73 1152.76 L806.23 1152.77 L807.73 1152.78 L809.22 1152.79 L810.72 1152.79 L812.22 1152.8 L813.71 1152.8 L815.21 1152.81 L816.71 1152.81 L818.2 1152.81 L819.7 1152.81 L821.2 1152.81 L822.69 1152.8 L824.19 1152.8 L825.69 1152.79 L827.18 1152.79 L828.68 1152.78 L830.18 1152.77 L831.67 1152.76 L833.17 1152.75 L834.67 1152.74 L836.16 1152.72 L837.66 1152.71 L839.15 1152.69 L840.65 1152.67 L842.15 1152.65 L843.64 1152.63 L845.14 1152.61 L846.64 1152.59 L848.13 1152.57 L849.63 1152.54 L851.13 1152.52 L852.62 1152.49 L854.12 1152.46 L855.62 1152.43 L857.11 1152.4 L858.61 1152.36 L860.1 1152.33 L861.6 1152.29 L863.1 1152.25 L864.59 1152.22 L866.09 1152.17 L867.58 1152.13 L869.08 1152.09 L870.58 1152.05 L872.07 1152 L873.57 1151.95 L875.06 1151.9 L876.56 1151.85 L878.05 1151.8 L879.55 1151.75 L881.05 1151.69 L882.54 1151.63 L884.04 1151.57 L885.53 1151.51 L887.03 1151.45 L888.52 1151.39 L890.02 1151.32 L891.51 1151.26 L893.01 1151.19 L894.5 1151.12 L896 1151.04 L897.49 1150.97 L898.99 1150.9 L900.48 1150.82 L901.98 1150.74 L903.47 1150.66 L904.96 1150.57 L906.46 1150.49 L907.95 1150.4 L909.45 1150.31 L910.94 1150.22 L912.43 1150.13 L913.93 1150.03 L915.42 1149.94 L916.91 1149.84 L918.41 1149.74 L919.9 1149.63 L921.39 1149.53 L922.89 1149.42 L924.38 1149.31 L925.87 1149.2 L927.36 1149.08 L928.86 1148.97 L930.35 1148.85 L931.84 1148.73 L933.33 1148.6 L934.82 1148.48 L936.31 1148.35 L937.8 1148.22 L939.29 1148.08 L940.78 1147.95 L942.27 1147.81 L943.76 1147.67 L945.25 1147.52 L946.74 1147.38 L948.23 1147.23 L949.72 1147.08 L951.21 1146.92 L952.7 1146.76 L954.19 1146.6 L955.67 1146.44 L957.16 1146.27 L958.65 1146.1 L960.13 1145.93 L961.62 1145.75 L963.11 1145.57 L964.59 1145.39 L966.08 1145.2 L967.56 1145.01 L969.04 1144.82 L970.53 1144.62 L972.01 1144.42 L973.49 1144.22 L974.98 1144.01 L976.46 1143.8 L977.94 1143.59 L979.42 1143.37 L980.9 1143.15 L982.38 1142.92 L983.86 1142.69 L985.34 1142.46 L986.81 1142.22 L988.29 1141.98 L989.77 1141.73 L991.24 1141.48 L992.72 1141.23 L994.19 1140.97 L995.66 1140.71 L997.14 1140.44 L998.61 1140.17 L1000.08 1139.89 L1001.55 1139.61 L1003.02 1139.32 L1004.49 1139.03 L1005.95 1138.73 L1007.42 1138.43 L1008.88 1138.12 L1010.35 1137.81 L1011.81 1137.49 L1013.27 1137.17 L1014.73 1136.84 L1016.19 1136.51 L1017.65 1136.17 L1019.1 1135.82 L1020.56 1135.47 L1022.01 1135.12 L1023.46 1134.75 L1024.91 1134.38 L1026.36 1134.01 L1027.81 1133.63 L1029.26 1133.24 L1030.7 1132.85 L1032.14 1132.45 L1033.58 1132.04 L1035.02 1131.63 L1036.46 1131.21 L1037.89 1130.78 L1039.32 1130.35 L1040.75 1129.91 L1042.18 1129.46 L1043.61 1129.01 L1045.03 1128.55 L1046.45 1128.08 L1047.87 1127.6 L1049.29 1127.12 L1050.7 1126.63 L1052.11 1126.13 L1053.52 1125.62 L1054.93 1125.11 L1056.33 1124.58 L1057.73 1124.05 L1059.12 1123.51 L1060.52 1122.97 L1061.91 1122.41 L1063.29 1121.85 L1064.68 1121.28 L1066.06 1120.7 L1067.43 1120.11 L1068.81 1119.51 L1070.17 1118.91 L1071.54 1118.29 L1072.9 1117.67 L1074.26 1117.04 L1075.61 1116.4 L1076.96 1115.75 L1078.3 1115.09 L1079.64 1114.43 L1080.98 1113.75 L1082.31 1113.06 L1083.63 1112.37 L1084.95 1111.67 L1086.27 1110.95 L1087.58 1110.23 L1088.89 1109.5 L1090.19 1108.76 L1091.48 1108.01 L1092.77 1107.25 L1094.06 1106.49 L1095.34 1105.71 L1096.61 1104.92 L1097.88 1104.13 L1099.14 1103.32 L1100.4 1102.51 L1101.65 1101.69 L1102.89 1100.86 L1104.13 1100.01 L1105.36 1099.16 L1106.59 1098.31 L1107.81 1097.44 L1109.02 1096.56 L1110.22 1095.67 L1111.42 1094.78 L1112.62 1093.87 L1113.8 1092.96 L1114.98 1092.04 L1116.15 1091.11 L1117.32 1090.17 L1118.48 1089.22 L1119.63 1088.27 L1120.77 1087.3 L1121.91 1086.33 L1123.04 1085.35 L1124.16 1084.36 L1125.28 1083.36 L1126.39 1082.36 L1127.49 1081.35 L1128.59 1080.33 L1129.67 1079.3 L1130.75 1078.26 L1131.83 1077.22 L1132.89 1076.17 L1133.95 1075.11 L1135 1074.04 L1136.04 1072.97 L1137.08 1071.89 L1138.11 1070.8 L1139.13 1069.71 L1140.14 1068.61 L1141.15 1067.5 L1142.15 1066.39 L1143.14 1065.27 L1144.13 1064.14 L1145.1 1063.01 L1146.08 1061.87 L1147.04 1060.72 L1148 1059.57 L1148.94 1058.41 L1149.89 1057.25 L1150.82 1056.08 L1151.75 1054.91 L1152.67 1053.73 L1153.58 1052.54 L1154.49 1051.35 L1155.39 1050.16 L1156.29 1048.96 L1157.17 1047.75 L1158.05 1046.54 L1158.93 1045.33 L1159.79 1044.11 L1160.65 1042.88 L1161.51 1041.65 L1162.35 1040.42 L1163.19 1039.18 L1164.03 1037.94 L1164.86 1036.69 L1165.68 1035.44 L1166.49 1034.19 L1167.3 1032.93 L1168.1 1031.66 L1168.9 1030.4 L1169.69 1029.13 L1170.48 1027.85 L1171.26 1026.57 L1172.03 1025.29 L1172.8 1024.01 L1173.56 1022.72" fill="none" stroke="#0804E4" stroke-width="4.8" stroke-linecap="round" stroke-linejoin="round" stroke-dasharray="7.2 8.3"/>
<path d="M714.55 1140.74 L715.5 1141.89 L716.5 1143.01 L717.54 1144.09 L718.61 1145.13 L719.73 1146.12 L720.89 1147.07 L722.09 1147.97 L723.33 1148.82 L724.6 1149.61 L725.9 1150.35 L727.23 1151.04 L728.58 1151.68 L729.96 1152.27 L731.35 1152.81 L732.76 1153.31 L734.19 1153.76 L735.63 1154.18 L737.08 1154.56 L738.53 1154.9 L740 1155.22 L741.47 1155.51 L742.94 1155.77 L744.42 1156.01 L745.9 1156.23 L747.39 1156.42 L748.87 1156.61 L750.36 1156.77 L751.85 1156.93 L753.34 1157.07 L754.83 1157.2 L756.32 1157.31 L757.82 1157.42 L759.31 1157.52 L760.81 1157.62 L762.3 1157.7 L763.8 1157.78 L765.29 1157.86 L766.79 1157.93 L768.28 1157.99 L769.78 1158.05 L771.28 1158.11 L772.77 1158.16 L774.27 1158.21 L775.77 1158.26 L777.26 1158.3 L778.76 1158.34 L780.26 1158.38 L781.75 1158.42 L783.25 1158.45 L784.75 1158.48 L786.24 1158.51 L787.74 1158.54 L789.24 1158.56 L790.74 1158.59 L792.23 1158.61 L793.73 1158.63 L795.23 1158.65 L796.72 1158.67 L798.22 1158.68 L799.72 1158.7 L801.22 1158.71 L802.71 1158.72 L804.21 1158.74 L805.71 1158.74 L807.21 1158.75 L808.7 1158.76 L810.2 1158.77 L811.7 1158.77 L813.2 1158.77 L814.69 1158.78 L816.19 1158.78 L817.69 1158.78 L819.18 1158.77 L820.68 1158.77 L822.18 1158.77 L823.68 1158.76 L825.17 1158.76 L826.67 1158.75 L828.17 1158.74 L829.67 1158.73 L831.16 1158.72 L832.66 1158.71 L834.16 1158.69 L835.66 1158.68 L837.15 1158.66 L838.65 1158.64 L840.15 1158.63 L841.64 1158.61 L843.14 1158.59 L844.64 1158.56 L846.14 1158.54 L847.63 1158.52 L849.13 1158.49 L850.63 1158.46 L852.12 1158.43 L853.62 1158.4 L855.12 1158.37 L856.62 1158.34 L858.11 1158.31 L859.61 1158.27 L861.11 1158.24 L862.6 1158.2 L864.1 1158.16 L865.6 1158.12 L867.09 1158.08 L868.59 1158.04 L870.09 1157.99 L871.58 1157.95 L873.08 1157.9 L874.58 1157.85 L876.07 1157.8 L877.57 1157.75 L879.07 1157.7 L880.56 1157.64 L882.06 1157.59 L883.56 1157.53 L885.05 1157.47 L886.55 1157.41 L888.04 1157.35 L889.54 1157.29 L891.04 1157.22 L892.53 1157.16 L894.03 1157.09 L895.52 1157.02 L897.02 1156.95 L898.51 1156.88 L900.01 1156.8 L901.51 1156.73 L903 1156.65 L904.5 1156.57 L905.99 1156.49 L907.49 1156.41 L908.98 1156.32 L910.48 1156.24 L911.97 1156.15 L913.47 1156.06 L914.96 1155.97 L916.46 1155.88 L917.95 1155.78 L919.44 1155.68 L920.94 1155.58 L922.43 1155.48 L923.93 1155.38 L925.42 1155.28 L926.91 1155.17 L928.41 1155.06 L929.9 1154.95 L931.39 1154.84 L932.89 1154.72 L934.38 1154.61 L935.87 1154.49 L937.36 1154.37 L938.86 1154.24 L940.35 1154.12 L941.84 1153.99 L943.33 1153.86 L944.82 1153.73 L946.31 1153.59 L947.81 1153.45 L949.3 1153.31 L950.79 1153.17 L952.28 1153.03 L953.77 1152.88 L955.26 1152.73 L956.75 1152.58 L958.24 1152.42 L959.72 1152.27 L961.21 1152.1 L962.7 1151.94 L964.19 1151.78 L965.68 1151.61 L967.17 1151.44 L968.65 1151.26 L970.14 1151.08 L971.63 1150.9 L973.11 1150.72 L974.6 1150.53 L976.08 1150.34 L977.57 1150.15 L979.05 1149.95 L980.54 1149.75 L982.02 1149.55 L983.5 1149.34 L984.98 1149.13 L986.47 1148.92 L987.95 1148.7 L989.43 1148.48 L990.91 1148.26 L992.39 1148.03 L993.87 1147.79 L995.35 1147.56 L996.83 1147.32 L998.3 1147.07 L999.78 1146.83 L1001.26 1146.57 L1002.73 1146.32 L1004.2 1146.05 L1005.68 1145.79 L1007.15 1145.52 L1008.62 1145.24 L1010.09 1144.96 L1011.56 1144.68 L1013.03 1144.39 L1014.5 1144.1 L1015.97 1143.8 L1017.44 1143.5 L1018.9 1143.19 L1020.36 1142.87 L1021.83 1142.56 L1023.29 1142.23 L1024.75 1141.9 L1026.21 1141.57 L1027.67 1141.22 L1029.12 1140.88 L1030.58 1140.53 L1032.03 1140.17 L1033.49 1139.8 L1034.94 1139.43 L1036.39 1139.05 L1037.83 1138.67 L1039.28 1138.28 L1040.72 1137.89 L1042.17 1137.48 L1043.61 1137.07 L1045.04 1136.66 L1046.48 1136.24 L1047.91 1135.81 L1049.35 1135.37 L1050.78 1134.92 L1052.2 1134.47 L1053.63 1134.01 L1055.05 1133.55 L1056.47 1133.07 L1057.89 1132.59 L1059.31 1132.1 L1060.72 1131.61 L1062.13 1131.1 L1063.53 1130.59 L1064.94 1130.06 L1066.34 1129.53 L1067.74 1129 L1069.13 1128.45 L1070.52 1127.89 L1071.91 1127.33 L1073.29 1126.76 L1074.67 1126.18 L1076.05 1125.59 L1077.42 1124.99 L1078.79 1124.38 L1080.15 1123.76 L1081.51 1123.13 L1082.87 1122.5 L1084.22 1121.85 L1085.56 1121.2 L1086.91 1120.53 L1088.24 1119.86 L1089.57 1119.17 L1090.9 1118.48 L1092.22 1117.78 L1093.54 1117.06 L1094.85 1116.34 L1096.16 1115.61 L1097.46 1114.87 L1098.75 1114.12 L1100.04 1113.35 L1101.33 1112.58 L1102.6 1111.8 L1103.87 1111.01 L1105.14 1110.21 L1106.4 1109.4 L1107.65 1108.58 L1108.9 1107.74 L1110.13 1106.9 L1111.37 1106.05 L1112.59 1105.19 L1113.81 1104.32 L1115.02 1103.44 L1116.23 1102.55 L1117.42 1101.65 L1118.61 1100.74 L1119.8 1099.83 L1120.97 1098.9 L1122.14 1097.96 L1123.3 1097.02 L1124.45 1096.06 L1125.6 1095.1 L1126.74 1094.12 L1127.87 1093.14 L1128.99 1092.15 L1130.1 1091.15 L1131.21 1090.14 L1132.31 1089.12 L1133.4 1088.09 L1134.48 1087.06 L1135.55 1086.02 L1136.62 1084.97 L1137.68 1083.91 L1138.73 1082.84 L1139.77 1081.77 L1140.81 1080.68 L1141.83 1079.59 L1142.85 1078.5 L1143.86 1077.39 L1144.87 1076.28 L1145.86 1075.16 L1146.85 1074.03 L1147.82 1072.9 L1148.8 1071.76 L1149.76 1070.61 L1150.71 1069.46 L1151.66 1068.3 L1152.6 1067.13 L1153.53 1065.96 L1154.45 1064.78 L1155.37 1063.6 L1156.28 1062.41 L1157.18 1061.21 L1158.07 1060.01 L1158.96 1058.8 L1159.84 1057.59 L1160.71 1056.37 L1161.57 1055.15 L1162.43 1053.92 L1163.28 1052.69 L1164.12 1051.45 L1164.96 1050.21 L1165.78 1048.96 L1166.61 1047.71 L1167.42 1046.45 L1168.23 1045.19 L1169.03 1043.92 L1169.82 1042.65 L1170.61 1041.38 L1171.39 1040.1 L1172.16 1038.82 L1172.93 1037.53 L1173.69 1036.25 L1174.45 1034.95 L1175.19 1033.66" fill="none" stroke="#000000" stroke-width="4.8" stroke-linecap="round" stroke-linejoin="round"/>
<path d="M677.6 1194.2V1188.2M677.6 653.2V659.2M707.41 1194.2V1179.6M707.41 653.2V667.8M737.22 1194.2V1188.2M737.22 653.2V659.2M767.03 1194.2V1188.2M767.03 653.2V659.2M796.84 1194.2V1188.2M796.84 653.2V659.2M826.66 1194.2V1179.6M826.66 653.2V667.8M856.47 1194.2V1188.2M856.47 653.2V659.2M886.28 1194.2V1188.2M886.28 653.2V659.2M916.09 1194.2V1188.2M916.09 653.2V659.2M945.9 1194.2V1179.6M945.9 653.2V667.8M975.71 1194.2V1188.2M975.71 653.2V659.2M1005.52 1194.2V1188.2M1005.52 653.2V659.2M1035.33 1194.2V1188.2M1035.33 653.2V659.2M1065.14 1194.2V1179.6M1065.14 653.2V667.8M1094.96 1194.2V1188.2M1094.96 653.2V659.2M1124.77 1194.2V1188.2M1124.77 653.2V659.2M1154.58 1194.2V1188.2M1154.58 653.2V659.2M1184.39 1194.2V1179.6M1184.39 653.2V667.8M1214.2 1194.2V1188.2M1214.2 653.2V659.2M677.6 1194.2H690.6M1214.2 1194.2H1201.2M677.6 1167.15H683.6M1214.2 1167.15H1208.2M677.6 1140.1H683.6M1214.2 1140.1H1208.2M677.6 1113.05H683.6M1214.2 1113.05H1208.2M677.6 1086H690.6M1214.2 1086H1201.2M677.6 1058.95H683.6M1214.2 1058.95H1208.2M677.6 1031.9H683.6M1214.2 1031.9H1208.2M677.6 1004.85H683.6M1214.2 1004.85H1208.2M677.6 977.8H690.6M1214.2 977.8H1201.2M677.6 950.75H683.6M1214.2 950.75H1208.2M677.6 923.7H683.6M1214.2 923.7H1208.2M677.6 896.65H683.6M1214.2 896.65H1208.2M677.6 869.6H690.6M1214.2 869.6H1201.2M677.6 842.55H683.6M1214.2 842.55H1208.2M677.6 815.5H683.6M1214.2 815.5H1208.2M677.6 788.45H683.6M1214.2 788.45H1208.2M677.6 761.4H690.6M1214.2 761.4H1201.2M677.6 734.35H683.6M1214.2 734.35H1208.2M677.6 707.3H683.6M1214.2 707.3H1208.2M677.6 680.25H683.6M1214.2 680.25H1208.2M677.6 653.2H690.6M1214.2 653.2H1201.2" fill="none" stroke="#000" stroke-width="2.7"/>
<rect x="677.6" y="653.2" width="536.6" height="541" fill="none" stroke="#000" stroke-width="3.0"/>
<text transform="translate(707.41 1230.5) scale(1 1.07)" font-size="30.4" text-anchor="middle">4</text>
<text transform="translate(826.66 1230.5) scale(1 1.07)" font-size="30.4" text-anchor="middle">4. </text><path transform="translate(830.88 1230.5) scale(0.01484 -0.01588)" d="M583 0L763 0L763 1409L646 1409Q560 1230 223 1075L223 905Q430 985 583 1100Z"/>
<text transform="translate(945.9 1230.5) scale(1 1.07)" font-size="30.4" text-anchor="middle">4.2</text>
<text transform="translate(1065.14 1230.5) scale(1 1.07)" font-size="30.4" text-anchor="middle">4.3</text>
<text transform="translate(1184.39 1230.5) scale(1 1.07)" font-size="30.4" text-anchor="middle">4.4</text>
<text transform="translate(1222.8 1205.5) scale(1 1.07)" font-size="30.4">0</text>
<text transform="translate(1222.8 1097.3) scale(1 1.07)" font-size="30.4">0.05</text>
<text transform="translate(1222.8 989.1) scale(1 1.07)" font-size="30.4">0. </text><path transform="translate(1248.15 989.1) scale(0.01484 -0.01588)" d="M583 0L763 0L763 1409L646 1409Q560 1230 223 1075L223 905Q430 985 583 1100Z"/>
<text transform="translate(1222.8 880.9) scale(1 1.07)" font-size="30.4">0. 5</text><path transform="translate(1248.15 880.9) scale(0.01484 -0.01588)" d="M583 0L763 0L763 1409L646 1409Q560 1230 223 1075L223 905Q430 985 583 1100Z"/>
<text transform="translate(1222.8 772.7) scale(1 1.07)" font-size="30.4">0.2</text>
<text transform="translate(1222.8 664.5) scale(1 1.07)" font-size="30.4">0.25</text>
<text transform="translate(945.9 1266.9) scale(1 1.02)" font-size="32.7" text-anchor="middle" stroke="#000" stroke-width="0.35">Voltage (V)</text>
<text transform="translate(708.5 714.7) scale(1 1.055)" font-size="40.7">8) 4.0 V - 4.4 V</text>
<text transform="translate(139.9 113.1) scale(1 1.04)" font-size="25.3" stroke="#000" stroke-width="0.7">Solid: Charge</text>
<text transform="translate(139.7 141.8) scale(1 1.04)" font-size="25.3" stroke="#000" stroke-width="0.7">Dotted: Discharge</text>
<path d="M140.2 166.4H184.9" stroke="#000000" stroke-width="5" stroke-linecap="round"/>
<text transform="translate(195.3 175.8) scale(1 1.04)" font-size="25.3" stroke="#000" stroke-width="0.7"> .0 AG</text><path transform="translate(195.3 175.8) scale(0.01235 -0.01285)" d="M583 0L763 0L763 1409L646 1409Q560 1230 223 1075L223 905Q430 985 583 1100Z" stroke="#000" stroke-width="56.66"/>
<path d="M140.2 200H184.9" stroke="#E50D0D" stroke-width="5" stroke-linecap="round"/>
<text transform="translate(195.3 209.4) scale(1 1.04)" font-size="25.3" stroke="#000" stroke-width="0.7">0.5 AG</text>
<path d="M140.2 234.2H184.9" stroke="#EC5E0E" stroke-width="5" stroke-linecap="round"/>
<text transform="translate(195.3 243.6) scale(1 1.04)" font-size="25.3" stroke="#000" stroke-width="0.7">0.25 AG</text>
<path d="M140.5 268.5H179" stroke="#0804E4" stroke-width="5" stroke-linecap="round" stroke-dasharray="7.5 8"/>
<text transform="translate(195.3 277.9) scale(1 1.04)" font-size="25.3" stroke="#000" stroke-width="0.7"> .0 NG</text><path transform="translate(195.3 277.9) scale(0.01235 -0.01285)" d="M583 0L763 0L763 1409L646 1409Q560 1230 223 1075L223 905Q430 985 583 1100Z" stroke="#000" stroke-width="56.66"/>
<path d="M140.5 302.6H179" stroke="#5A87EB" stroke-width="5" stroke-linecap="round" stroke-dasharray="7.5 8"/>
<text transform="translate(195.3 312) scale(1 1.04)" font-size="25.3" stroke="#000" stroke-width="0.7">0.25 NG</text>
</g></svg></body></html>
